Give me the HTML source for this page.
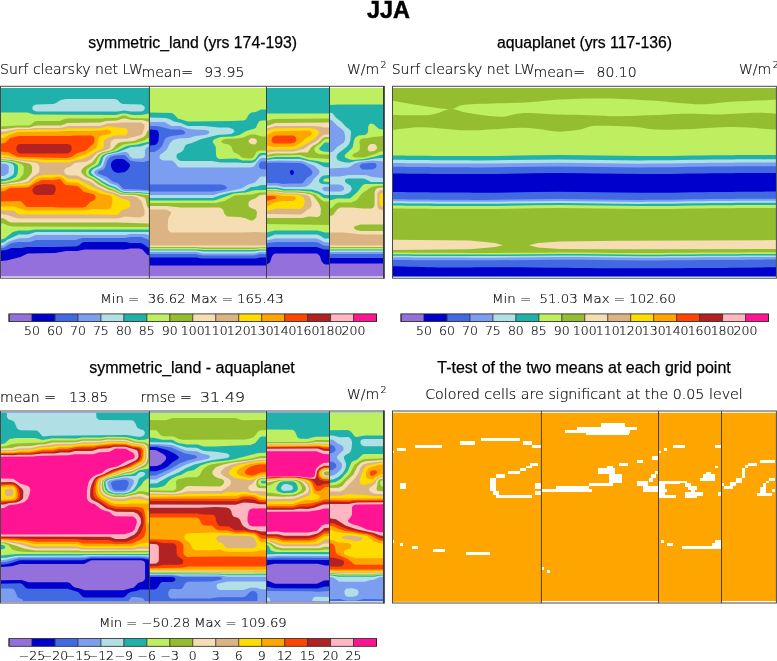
<!DOCTYPE html>
<html><head><meta charset="utf-8"><style>
html,body{margin:0;padding:0;background:#fff;width:777px;height:661px;overflow:hidden}
svg{display:block} text{white-space:pre}
</style></head><body>
<svg width="777" height="661" viewBox="0 0 777 661">
<text x="388.5" y="18.1" font-size="24.5" style="font-family:'Liberation Sans',sans-serif;font-weight:bold;stroke:#000;stroke-width:0.5px;" fill="#000" text-anchor="middle" textLength="43" lengthAdjust="spacingAndGlyphs">JJA</text>
<text x="88.3" y="48.4" font-size="16" style="font-family:'Liberation Sans',sans-serif;stroke:#000;stroke-width:0.25px;" fill="#000" textLength="208.7" lengthAdjust="spacingAndGlyphs">symmetric_land (yrs 174-193)</text>
<text x="497" y="48.2" font-size="16" style="font-family:'Liberation Sans',sans-serif;stroke:#000;stroke-width:0.25px;" fill="#000" textLength="175" lengthAdjust="spacingAndGlyphs">aquaplanet (yrs 117-136)</text>
<text x="0" y="73.9" font-size="14" style="font-family:'DejaVu Sans',sans-serif;font-weight:200;stroke:#000;stroke-width:0.2px;" fill="#111">Surf clearsky net LW</text>
<text x="141.6" y="76.8" font-size="14" style="font-family:'DejaVu Sans',sans-serif;font-weight:200;stroke:#000;stroke-width:0.2px;" fill="#111">mean=</text>
<text x="204.3" y="76.8" font-size="14" style="font-family:'DejaVu Sans',sans-serif;font-weight:200;stroke:#000;stroke-width:0.2px;" fill="#111">93.95</text>
<text x="347" y="73.9" font-size="14" style="font-family:'DejaVu Sans',sans-serif;font-weight:200;stroke:#000;stroke-width:0.2px;" fill="#111">W/m</text>
<text x="380.5" y="68" font-size="9.5" style="font-family:'DejaVu Sans',sans-serif;font-weight:200;stroke:#000;stroke-width:0.2px;" fill="#111">2</text>
<text x="391.7" y="73.9" font-size="14" style="font-family:'DejaVu Sans',sans-serif;font-weight:200;stroke:#000;stroke-width:0.2px;" fill="#111">Surf clearsky net LW</text>
<text x="533.5" y="76.8" font-size="14" style="font-family:'DejaVu Sans',sans-serif;font-weight:200;stroke:#000;stroke-width:0.2px;" fill="#111">mean=</text>
<text x="596.5" y="76.8" font-size="14" style="font-family:'DejaVu Sans',sans-serif;font-weight:200;stroke:#000;stroke-width:0.2px;" fill="#111">80.10</text>
<text x="739" y="73.9" font-size="14" style="font-family:'DejaVu Sans',sans-serif;font-weight:200;stroke:#000;stroke-width:0.2px;" fill="#111">W/m</text>
<text x="772.8" y="68" font-size="9.5" style="font-family:'DejaVu Sans',sans-serif;font-weight:200;stroke:#000;stroke-width:0.2px;" fill="#111">2</text>
<rect x="393" y="88.0" width="383" height="188.3" fill="#95bd30"/>
<path d="M393,276.3 L393.0,100.7 C398.1,101.6 413.9,104.5 423.5,105.9 C433.1,107.3 443.2,109.2 450.5,109.0 C457.8,108.8 454.8,105.7 467.0,104.6 C479.2,103.5 508.5,103.3 524.0,102.5 C539.5,101.7 546.5,100.2 560.0,99.5 C573.5,98.8 589.8,98.3 605.0,98.5 C620.2,98.7 638.5,99.8 651.0,100.5 C663.5,101.2 671.5,102.4 680.0,103.0 C688.5,103.6 693.3,104.5 702.0,104.3 C710.7,104.1 719.7,102.5 732.0,101.7 C744.3,100.9 768.7,100.0 776.0,99.7 L776,276.3 Z" fill="#bdef60"/>
<path d="M393,276.3 L393.0,114.9 C399.2,114.9 420.4,115.9 430.0,114.9 C439.6,113.9 444.3,109.3 450.5,109.0 C456.7,108.7 458.8,111.5 467.0,112.8 C475.2,114.1 490.5,116.7 500.0,116.7 C509.5,116.7 514.0,113.3 524.0,113.0 C534.0,112.7 549.0,114.2 560.0,114.6 C571.0,115.0 580.3,114.9 590.0,115.2 C599.7,115.5 607.0,116.2 618.0,116.2 C629.0,116.2 644.7,115.4 656.0,115.0 C667.3,114.6 675.3,113.8 686.0,113.7 C696.7,113.6 708.2,114.6 720.0,114.4 C731.8,114.2 747.7,112.8 757.0,112.7 C766.3,112.6 772.8,113.5 776.0,113.7 L776,276.3 Z" fill="#95bd30"/>
<path d="M393,276.3 L393.0,129.8 C398.1,129.4 411.2,127.1 423.5,127.2 C435.8,127.3 450.2,130.2 467.0,130.3 C483.8,130.4 509.0,127.6 524.0,127.8 C539.0,128.0 547.7,131.3 557.0,131.6 C566.3,131.9 573.7,130.6 580.0,129.6 C586.3,128.6 586.5,126.3 595.0,125.8 C603.5,125.3 620.8,126.0 631.0,126.6 C641.2,127.2 645.5,129.2 656.0,129.6 C666.5,130.0 681.3,129.3 694.0,128.9 C706.7,128.5 718.3,127.0 732.0,127.1 C745.7,127.2 768.7,129.2 776.0,129.6 L776,276.3 Z" fill="#bdef60"/>
<path d="M393,276.3 L393.0,155.4 C407.5,155.5 452.2,156.1 480.0,156.0 C507.8,155.9 533.3,155.1 560.0,155.1 C586.7,155.1 613.3,156.1 640.0,156.1 C666.7,156.1 697.3,155.4 720.0,155.2 C742.7,155.0 766.7,155.0 776.0,154.9 L776,276.3 Z" fill="#20b2aa"/>
<path d="M393,276.3 L393.0,159.8 C407.5,159.9 452.2,160.5 480.0,160.4 C507.8,160.3 533.3,159.5 560.0,159.5 C586.7,159.5 613.3,160.5 640.0,160.5 C666.7,160.5 697.3,159.8 720.0,159.6 C742.7,159.4 766.7,159.4 776.0,159.3 L776,276.3 Z" fill="#b0e0e6"/>
<path d="M393,276.3 L393.0,163.0 C407.5,163.1 452.2,163.7 480.0,163.6 C507.8,163.5 533.3,162.7 560.0,162.7 C586.7,162.7 613.3,163.7 640.0,163.7 C666.7,163.7 697.3,163.0 720.0,162.8 C742.7,162.6 766.7,162.6 776.0,162.5 L776,276.3 Z" fill="#7b9ef0"/>
<path d="M393,276.3 L393.0,166.8 C407.5,166.9 452.2,167.5 480.0,167.4 C507.8,167.3 533.3,166.5 560.0,166.5 C586.7,166.5 613.3,167.5 640.0,167.5 C666.7,167.5 697.3,166.8 720.0,166.6 C742.7,166.4 766.7,166.4 776.0,166.3 L776,276.3 Z" fill="#4169e1"/>
<path d="M393,276.3 L393.0,173.4 C407.5,173.5 452.2,174.1 480.0,174.0 C507.8,173.9 533.3,173.1 560.0,173.1 C586.7,173.1 613.3,174.1 640.0,174.1 C666.7,174.1 697.3,173.4 720.0,173.2 C742.7,173.0 766.7,173.0 776.0,172.9 L776,276.3 Z" fill="#0000cd"/>
<path d="M393,276.3 L393.0,192.1 C407.5,192.2 452.2,192.8 480.0,192.7 C507.8,192.6 533.3,191.8 560.0,191.8 C586.7,191.8 613.3,192.8 640.0,192.8 C666.7,192.8 697.3,192.1 720.0,191.9 C742.7,191.7 766.7,191.7 776.0,191.6 L776,276.3 Z" fill="#4169e1"/>
<path d="M393,276.3 L393.0,199.3 C407.5,199.4 452.2,200.0 480.0,199.9 C507.8,199.8 533.3,199.0 560.0,199.0 C586.7,199.0 613.3,200.0 640.0,200.0 C666.7,200.0 697.3,199.3 720.0,199.1 C742.7,198.9 766.7,198.9 776.0,198.8 L776,276.3 Z" fill="#7b9ef0"/>
<path d="M393,276.3 L393.0,201.2 C407.5,201.3 452.2,201.8 480.0,201.8 C507.8,201.7 533.3,200.9 560.0,200.9 C586.7,200.9 613.3,201.9 640.0,201.9 C666.7,201.9 697.3,201.2 720.0,201.0 C742.7,200.8 766.7,200.8 776.0,200.7 L776,276.3 Z" fill="#b0e0e6"/>
<path d="M393,276.3 L393.0,203.2 C407.5,203.3 452.2,203.8 480.0,203.8 C507.8,203.7 533.3,202.9 560.0,202.9 C586.7,202.9 613.3,203.9 640.0,203.9 C666.7,203.9 697.3,203.2 720.0,203.0 C742.7,202.8 766.7,202.8 776.0,202.7 L776,276.3 Z" fill="#20b2aa"/>
<path d="M393,276.3 L393.0,205.4 C407.5,205.5 452.2,206.1 480.0,206.0 C507.8,205.9 533.3,205.1 560.0,205.1 C586.7,205.1 613.3,206.1 640.0,206.1 C666.7,206.1 697.3,205.4 720.0,205.2 C742.7,205.0 766.7,205.0 776.0,204.9 L776,276.3 Z" fill="#bdef60"/>
<path d="M393,276.3 L393.0,208.4 C407.5,208.5 452.2,209.1 480.0,209.0 C507.8,208.9 533.3,208.1 560.0,208.1 C586.7,208.1 613.3,209.1 640.0,209.1 C666.7,209.1 697.3,208.4 720.0,208.2 C742.7,208.0 766.7,208.0 776.0,207.9 L776,276.3 Z" fill="#95bd30"/>
<path d="M393,239.8 L470,240.5 L495,243 L503,245.2 L495,247 L470,249.2 L393,250 Z" fill="#f5deb3"/>
<path d="M776,240.1 L620,240.8 L560,241.5 L538,243 L529,245.2 L538,247.5 L560,249 L620,249.3 L776,249 Z" fill="#f5deb3"/>
<path d="M393,276.3 L393.0,252.6 C407.5,252.7 452.2,253.0 480.0,253.0 C507.8,253.0 533.3,252.4 560.0,252.4 C586.7,252.4 613.3,253.1 640.0,253.1 C666.7,253.1 697.3,252.7 720.0,252.6 C742.7,252.5 766.7,252.3 776.0,252.3 L776,276.3 Z" fill="#bdef60"/>
<path d="M393,276.3 L393.0,254.2 C407.5,254.3 452.2,254.6 480.0,254.6 C507.8,254.6 533.3,254.0 560.0,254.0 C586.7,254.0 613.3,254.7 640.0,254.7 C666.7,254.7 697.3,254.3 720.0,254.2 C742.7,254.1 766.7,253.9 776.0,253.9 L776,276.3 Z" fill="#20b2aa"/>
<path d="M393,276.3 L393.0,255.7 C407.5,255.8 452.2,256.1 480.0,256.1 C507.8,256.1 533.3,255.5 560.0,255.5 C586.7,255.5 613.3,256.2 640.0,256.2 C666.7,256.2 697.3,255.8 720.0,255.7 C742.7,255.6 766.7,255.4 776.0,255.4 L776,276.3 Z" fill="#b0e0e6"/>
<path d="M393,276.3 L393.0,257.3 C407.5,257.4 452.2,257.7 480.0,257.7 C507.8,257.7 533.3,257.1 560.0,257.1 C586.7,257.1 613.3,257.8 640.0,257.8 C666.7,257.8 697.3,257.4 720.0,257.3 C742.7,257.2 766.7,257.1 776.0,257.0 L776,276.3 Z" fill="#7b9ef0"/>
<path d="M393,276.3 L393.0,259.9 C407.5,260.0 452.2,260.3 480.0,260.3 C507.8,260.3 533.3,259.7 560.0,259.7 C586.7,259.7 613.3,260.4 640.0,260.4 C666.7,260.4 697.3,260.0 720.0,259.9 C742.7,259.8 766.7,259.6 776.0,259.6 L776,276.3 Z" fill="#4169e1"/>
<path d="M393,276.3 L393.0,266.3 C397.5,266.4 410.5,266.8 420.0,267.0 C429.5,267.2 436.7,267.5 450.0,267.5 C463.3,267.5 481.7,267.1 500.0,267.2 C518.3,267.2 540.0,267.6 560.0,267.8 C580.0,268.0 596.7,268.3 620.0,268.3 C643.3,268.3 674.0,268.2 700.0,268.0 C726.0,267.8 763.3,267.4 776.0,267.3 L776,276.3 Z" fill="#0000cd"/>
<rect x="393" y="412.8" width="383" height="189" fill="#ffa500"/>
<g shape-rendering="crispEdges">
<rect x="396.8" y="448.0" width="9.1" height="2.9" fill="#fff"/>
<rect x="415.2" y="445.1" width="26.6" height="2.9" fill="#fff"/>
<rect x="460.0" y="441.2" width="15.0" height="3.9" fill="#fff"/>
<rect x="480.8" y="438.0" width="39.0" height="2.8" fill="#fff"/>
<rect x="522.9" y="440.8" width="9.1" height="4.3" fill="#fff"/>
<rect x="532.0" y="445.1" width="8.6" height="2.9" fill="#fff"/>
<rect x="392.0" y="451.0" width="2.0" height="2.0" fill="#fff"/>
<rect x="400.0" y="482.7" width="5.9" height="5.8" fill="#fff"/>
<rect x="532.0" y="462.9" width="5.8" height="3.1" fill="#fff"/>
<rect x="526.0" y="466.0" width="6.0" height="2.3" fill="#fff"/>
<rect x="519.8" y="468.3" width="6.2" height="2.9" fill="#fff"/>
<rect x="507.8" y="471.2" width="12.0" height="2.8" fill="#fff"/>
<rect x="496.2" y="474.0" width="8.8" height="3.9" fill="#fff"/>
<rect x="490.0" y="477.9" width="6.2" height="13.5" fill="#fff"/>
<rect x="492.8" y="491.4" width="6.2" height="3.9" fill="#fff"/>
<rect x="496.2" y="495.3" width="35.8" height="2.9" fill="#fff"/>
<rect x="534.9" y="482.7" width="5.7" height="5.8" fill="#fff"/>
<rect x="534.9" y="491.4" width="5.7" height="3.9" fill="#fff"/>
<rect x="601.4" y="422.9" width="23.2" height="3.9" fill="#fff"/>
<rect x="577.3" y="426.8" width="59.8" height="2.9" fill="#fff"/>
<rect x="564.7" y="429.7" width="65.7" height="2.8" fill="#fff"/>
<rect x="586.0" y="432.5" width="42.5" height="2.9" fill="#fff"/>
<rect x="530.0" y="462.5" width="7.7" height="3.5" fill="#fff"/>
<rect x="556.0" y="485.6" width="33.0" height="2.9" fill="#fff"/>
<rect x="541.4" y="488.5" width="50.4" height="3.3" fill="#fff"/>
<rect x="588.9" y="482.7" width="24.1" height="2.9" fill="#fff"/>
<rect x="609.0" y="474.0" width="12.7" height="8.7" fill="#fff"/>
<rect x="597.6" y="467.9" width="17.4" height="6.1" fill="#fff"/>
<rect x="607.0" y="466.0" width="6.0" height="1.9" fill="#fff"/>
<rect x="618.8" y="462.9" width="8.7" height="3.1" fill="#fff"/>
<rect x="637.0" y="460.2" width="6.0" height="2.7" fill="#fff"/>
<rect x="652.0" y="455.7" width="6.4" height="3.9" fill="#fff"/>
<rect x="654.5" y="470.6" width="3.9" height="3.4" fill="#fff"/>
<rect x="648.7" y="477.5" width="3.8" height="4.3" fill="#fff"/>
<rect x="651.0" y="474.0" width="4.5" height="4.0" fill="#fff"/>
<rect x="637.0" y="481.4" width="10.8" height="4.2" fill="#fff"/>
<rect x="643.0" y="485.6" width="15.4" height="6.2" fill="#fff"/>
<rect x="658.4" y="481.4" width="21.6" height="2.3" fill="#fff"/>
<rect x="658.4" y="483.7" width="6.6" height="13.5" fill="#fff"/>
<rect x="658.4" y="495.3" width="17.4" height="2.9" fill="#fff"/>
<rect x="672.9" y="445.0" width="12.1" height="3.0" fill="#fff"/>
<rect x="663.8" y="448.0" width="3.0" height="3.0" fill="#fff"/>
<rect x="658.4" y="451.0" width="2.1" height="1.5" fill="#fff"/>
<rect x="714.8" y="445.0" width="6.0" height="3.0" fill="#fff"/>
<rect x="714.8" y="466.2" width="3.0" height="1.9" fill="#fff"/>
<rect x="706.0" y="471.5" width="5.0" height="2.5" fill="#fff"/>
<rect x="703.0" y="474.0" width="11.8" height="3.5" fill="#fff"/>
<rect x="700.0" y="477.5" width="14.8" height="3.3" fill="#fff"/>
<rect x="660.0" y="480.8" width="27.0" height="2.0" fill="#fff"/>
<rect x="685.0" y="482.8" width="6.0" height="3.8" fill="#fff"/>
<rect x="688.0" y="485.8" width="9.0" height="3.8" fill="#fff"/>
<rect x="691.0" y="489.6" width="3.8" height="3.0" fill="#fff"/>
<rect x="685.0" y="492.3" width="18.0" height="3.4" fill="#fff"/>
<rect x="685.0" y="495.7" width="12.0" height="2.3" fill="#fff"/>
<rect x="660.0" y="495.7" width="16.0" height="2.3" fill="#fff"/>
<rect x="663.8" y="488.5" width="3.0" height="3.0" fill="#fff"/>
<rect x="718.3" y="492.3" width="2.5" height="3.4" fill="#fff"/>
<rect x="722.0" y="483.3" width="2.3" height="2.5" fill="#fff"/>
<rect x="724.3" y="485.8" width="8.3" height="3.1" fill="#fff"/>
<rect x="730.0" y="482.0" width="6.0" height="3.8" fill="#fff"/>
<rect x="736.0" y="478.0" width="5.7" height="5.0" fill="#fff"/>
<rect x="741.7" y="468.4" width="3.1" height="9.6" fill="#fff"/>
<rect x="744.8" y="465.4" width="3.0" height="3.0" fill="#fff"/>
<rect x="747.8" y="463.1" width="9.1" height="2.6" fill="#fff"/>
<rect x="760.0" y="459.8" width="15.0" height="3.3" fill="#fff"/>
<rect x="769.0" y="478.0" width="6.0" height="2.5" fill="#fff"/>
<rect x="766.0" y="480.5" width="3.0" height="2.3" fill="#fff"/>
<rect x="763.0" y="482.8" width="3.0" height="3.8" fill="#fff"/>
<rect x="760.0" y="486.6" width="6.0" height="6.0" fill="#fff"/>
<rect x="757.0" y="492.6" width="15.0" height="3.1" fill="#fff"/>
<rect x="772.0" y="488.9" width="3.0" height="3.0" fill="#fff"/>
<rect x="392.0" y="540.0" width="2.0" height="2.8" fill="#fff"/>
<rect x="399.7" y="542.8" width="3.3" height="2.9" fill="#fff"/>
<rect x="411.9" y="546.0" width="6.1" height="3.0" fill="#fff"/>
<rect x="433.0" y="549.0" width="12.0" height="2.9" fill="#fff"/>
<rect x="466.0" y="551.9" width="24.0" height="3.2" fill="#fff"/>
<rect x="540.6" y="567.0" width="1.4" height="3.0" fill="#fff"/>
<rect x="541.4" y="567.0" width="2.5" height="2.8" fill="#fff"/>
<rect x="547.0" y="569.8" width="3.0" height="2.9" fill="#fff"/>
<rect x="660.9" y="539.9" width="3.3" height="2.9" fill="#fff"/>
<rect x="667.0" y="542.8" width="5.9" height="2.9" fill="#fff"/>
<rect x="667.2" y="542.9" width="5.6" height="2.7" fill="#fff"/>
<rect x="682.3" y="545.9" width="32.7" height="2.7" fill="#fff"/>
<rect x="712.0" y="542.9" width="3.0" height="3.0" fill="#fff"/>
<rect x="715.0" y="540.0" width="6.0" height="8.6" fill="#fff"/>
<rect x="541.4" y="600.8" width="117.1" height="1.2" fill="#fff"/>
<rect x="721.5" y="600.8" width="54.5" height="1.2" fill="#fff"/>
</g>
<line x1="541.4" y1="411" x2="541.4" y2="603.4" stroke="#333" stroke-width="0.9"/>
<line x1="658.5" y1="411" x2="658.5" y2="603.4" stroke="#333" stroke-width="0.9"/>
<line x1="721.5" y1="411" x2="721.5" y2="603.4" stroke="#333" stroke-width="0.9"/>
<rect x="1.00" y="88.00" width="148.40" height="188.50" fill="#9370db"/>
<path fill="#0000cd" fill-rule="evenodd" d="M1.0,88.0 1.0,260.9 6.6,260.4 20.4,256.9 27.6,253.6 54.9,252.9 66.6,251.1 77.4,251.1 84.6,249.4 124.4,249.4 130.4,248.4 139.4,248.4 142.4,249.4 146.9,254.6 149.4,255.6 149.4,88.0Z"/>
<path fill="#4169e1" fill-rule="evenodd" d="M1.0,88.0 1.0,250.6 6.1,250.1 11.6,247.9 21.4,247.9 26.9,246.9 53.1,247.1 75.6,246.6 78.9,245.4 81.6,242.9 84.1,241.9 125.6,241.9 130.4,242.9 140.9,243.1 143.9,244.4 147.9,247.6 149.4,248.1 149.4,88.0ZM110.9,164.4 111.6,162.1 113.6,160.1 116.6,159.1 121.4,159.1 124.1,159.6 126.1,160.9 129.6,164.1 130.1,166.1 127.9,169.4 124.9,172.1 118.1,172.9 114.6,171.9 112.6,169.9 111.1,166.9Z"/>
<path fill="#7b9ef0" fill-rule="evenodd" d="M1.0,88.0 1.0,247.9 4.4,247.6 9.6,243.9 12.1,242.9 18.1,242.1 29.9,242.1 36.1,240.1 75.6,240.1 82.4,238.1 124.6,238.1 130.6,237.1 141.6,237.1 149.4,239.9 149.4,190.4 140.4,189.4 123.4,188.9 118.4,183.4 112.6,181.4 107.1,177.1 98.9,174.1 97.9,172.9 97.9,172.1 98.9,171.1 103.4,169.4 105.1,167.6 107.1,161.1 108.4,158.9 110.4,157.1 114.6,155.6 124.1,154.9 125.4,155.4 130.1,160.4 134.9,161.6 143.1,161.9 149.4,160.4 149.4,88.0Z"/>
<path fill="#b0e0e6" fill-rule="evenodd" d="M1.0,88.0 1.0,163.6 6.1,164.1 8.4,165.6 8.9,167.1 8.4,172.9 5.9,175.1 3.4,175.9 1.0,175.9 1.0,245.6 3.6,245.4 7.9,242.1 11.9,240.4 18.9,238.4 28.6,238.1 35.6,234.9 126.1,234.9 129.6,234.1 144.1,234.1 149.4,234.9 149.4,191.6 137.9,190.9 124.6,190.9 122.4,190.4 116.6,185.6 110.6,183.4 102.9,178.6 96.4,175.4 94.1,172.9 94.4,171.4 95.9,169.9 101.4,167.4 102.9,165.9 105.4,158.1 106.9,156.4 109.6,155.1 123.4,152.1 126.4,152.1 128.9,154.1 129.9,156.4 132.6,158.4 141.1,158.6 143.4,157.9 144.9,155.9 145.1,149.4 146.6,147.4 149.4,146.6 149.4,88.0Z"/>
<path fill="#20b2aa" fill-rule="evenodd" d="M1.0,88.0 1.0,162.1 5.1,162.1 10.4,163.1 12.4,163.9 14.1,165.9 14.1,172.6 12.9,175.1 8.9,177.6 5.1,178.9 1.0,179.1 1.0,242.9 3.9,242.4 7.9,239.6 18.6,234.6 27.9,234.4 35.6,232.1 149.4,232.1 149.4,192.9 136.4,191.9 123.9,191.9 121.1,191.1 116.1,187.6 109.4,184.9 102.9,181.4 93.1,175.1 91.1,172.9 91.4,171.1 93.4,169.1 100.4,165.4 101.4,163.9 103.4,157.1 106.6,154.6 118.4,151.9 130.9,147.1 140.1,146.4 147.6,144.1 149.4,144.1 149.4,88.0ZM32.4,107.1 33.6,105.4 36.1,104.4 53.6,104.1 56.1,103.1 60.6,100.1 66.4,98.9 115.1,98.9 117.6,100.1 120.6,103.1 122.9,104.1 141.6,104.6 144.4,106.4 144.9,108.6 143.1,110.9 140.9,111.6 130.6,111.6 124.6,110.6 117.4,111.6 36.6,111.4 33.6,110.4 32.4,108.9Z"/>
<path fill="#bdef60" fill-rule="evenodd" d="M1.0,112.6 1.0,161.1 7.9,161.4 14.6,162.9 17.6,165.1 18.1,167.9 17.6,174.1 15.6,177.1 10.9,179.6 4.9,181.1 1.0,181.4 1.0,239.4 4.6,238.6 12.9,231.9 18.6,230.4 29.1,230.4 34.6,229.6 149.4,229.6 149.4,194.1 133.1,192.6 124.6,192.9 120.9,192.1 114.6,188.6 107.6,185.9 102.4,183.1 95.4,178.1 90.4,175.4 88.6,173.4 88.6,171.1 90.6,168.6 96.4,165.6 98.4,163.9 101.1,156.9 103.1,154.9 106.6,153.4 116.6,150.9 124.4,146.9 128.6,145.4 137.6,144.4 147.4,141.9 149.1,141.9 149.4,113.6 141.4,115.1 132.6,115.1 125.9,113.4 122.1,113.4 115.6,115.1 33.9,114.6 27.6,112.6Z"/>
<path fill="#95bd30" fill-rule="evenodd" d="M149.4,118.4 132.6,117.9 129.6,117.4 125.1,115.6 122.9,115.6 116.6,117.9 104.6,118.1 102.1,118.6 68.6,118.6 64.6,119.1 59.6,120.9 36.6,120.9 34.4,121.6 31.4,124.4 28.4,125.6 18.6,125.6 1.0,126.6 1.0,160.1 7.6,160.4 15.6,161.9 22.1,164.4 23.9,166.9 23.4,173.9 19.6,178.4 16.6,180.1 4.6,182.6 1.0,182.6 1.0,223.4 3.6,223.6 7.9,225.6 12.6,226.4 149.4,226.9 149.4,195.6 134.4,193.6 122.9,193.6 120.1,192.9 115.1,190.4 107.6,187.6 100.9,184.1 93.9,178.9 88.6,176.4 86.9,174.9 85.9,173.1 85.9,171.1 87.1,168.9 95.4,163.4 98.6,156.9 101.6,154.1 104.4,152.9 113.9,150.4 120.6,145.9 123.4,144.6 129.6,143.4 134.4,143.1 143.9,140.4 149.4,137.1Z"/>
<path fill="#f5deb3" fill-rule="evenodd" d="M149.4,121.9 142.4,120.1 131.9,120.1 125.4,118.6 122.9,118.6 116.9,120.4 105.9,120.9 100.6,122.6 67.4,122.9 60.9,125.6 37.9,125.6 33.9,126.1 29.9,127.4 16.4,127.6 5.1,129.1 1.0,129.1 1.0,159.1 12.1,160.1 26.6,162.9 30.4,164.1 32.1,166.4 31.9,172.4 28.9,176.6 25.6,179.6 19.6,181.6 4.1,183.9 1.0,183.9 1.0,218.1 3.9,218.4 8.4,221.4 11.1,222.4 117.1,222.4 149.4,223.4 149.4,208.4 147.9,207.4 146.9,205.6 145.4,198.6 144.1,197.4 135.4,194.9 121.4,194.4 114.1,191.4 108.9,189.9 97.9,184.4 92.6,180.1 85.1,176.6 81.4,172.6 81.4,170.4 82.1,168.9 85.1,166.4 92.1,162.4 98.4,154.4 102.9,152.1 108.4,150.9 112.1,149.4 117.9,143.1 122.6,141.9 134.1,141.1 143.6,137.1 145.6,134.9 147.1,131.4 149.4,129.4Z"/>
<path fill="#dcb484" fill-rule="evenodd" d="M144.4,124.4 140.9,122.6 121.6,122.4 116.1,123.1 107.1,123.4 102.1,125.4 99.1,125.9 68.4,125.9 62.9,127.4 58.6,127.9 34.4,127.9 29.1,128.9 18.1,128.9 4.4,131.4 1.0,131.4 1.0,158.1 6.6,158.4 18.9,160.6 34.1,162.4 37.6,163.6 39.4,166.1 39.4,171.1 38.9,172.4 37.1,174.1 33.1,176.4 27.9,181.6 22.6,182.9 1.0,185.1 1.0,214.1 7.1,214.9 17.9,218.4 117.9,218.6 125.1,216.6 138.9,217.4 142.9,216.6 144.6,214.4 144.6,210.6 141.4,200.9 137.4,197.6 132.9,196.1 121.9,195.9 115.1,193.1 105.6,190.4 96.4,185.9 91.4,182.1 84.6,179.4 79.1,176.4 76.6,175.6 69.4,175.6 67.1,175.1 65.1,173.6 64.1,171.1 64.9,169.1 66.1,167.9 70.4,166.4 73.9,163.4 76.9,162.4 83.9,162.1 86.9,161.4 91.4,158.9 97.1,153.1 108.6,148.9 110.1,147.4 110.6,142.9 111.4,140.9 114.1,138.9 127.4,138.6 141.1,134.9 142.6,133.4 144.6,126.9Z"/>
<path fill="#ffdc00" fill-rule="evenodd" d="M1.0,186.4 1.0,210.6 12.4,210.4 14.4,211.1 17.9,213.9 20.1,214.6 87.9,214.4 116.4,215.1 118.1,214.4 122.1,209.9 128.4,207.9 130.4,205.4 129.9,202.1 127.6,200.1 121.1,198.6 113.9,194.4 105.9,192.4 96.6,188.9 78.1,179.4 67.4,178.6 63.1,175.6 59.9,174.4 42.6,174.9 35.1,177.6 30.1,182.4 27.6,183.6 10.4,184.9ZM127.6,130.9 126.9,129.1 124.9,127.9 117.1,127.6 111.1,126.4 106.9,126.4 101.9,127.9 94.4,128.4 67.4,128.4 62.4,129.4 36.9,129.4 30.6,130.1 19.4,130.1 15.9,130.6 5.1,133.9 1.0,134.4 1.0,156.9 6.1,157.1 19.1,159.6 36.4,160.9 42.9,162.4 69.1,162.6 74.6,160.4 82.4,158.9 89.4,156.1 94.9,152.1 101.6,149.1 103.6,147.6 103.9,140.9 105.4,139.1 114.6,135.4 124.1,135.4 125.9,134.9 127.4,133.4Z"/>
<path fill="#ffa500" fill-rule="evenodd" d="M112.4,197.6 110.4,195.6 99.6,193.4 96.1,191.6 89.4,189.4 78.4,182.9 67.1,181.9 62.4,177.6 58.9,176.6 52.1,177.4 42.6,177.4 39.4,178.1 35.4,179.9 30.1,184.4 26.9,185.4 10.1,186.1 4.6,187.6 1.0,187.9 1.0,206.6 13.9,206.6 26.1,210.6 85.9,210.6 91.6,208.9 107.6,209.4 109.9,208.6 111.4,206.6 112.4,201.1ZM111.1,131.6 109.1,129.9 106.9,129.6 100.9,130.6 92.1,131.1 64.6,131.1 59.1,131.6 17.6,132.1 8.9,135.1 3.9,137.9 1.0,138.1 1.0,154.9 5.1,155.1 16.6,158.1 20.6,158.6 35.4,159.1 44.4,160.1 69.6,160.1 86.6,153.9 95.6,148.4 97.4,145.9 98.1,139.6 99.1,137.4 101.9,135.6 109.6,134.1 110.9,133.1Z"/>
<path fill="#ff4500" fill-rule="evenodd" d="M95.6,196.9 95.1,195.6 93.1,194.1 86.4,192.6 83.4,191.4 79.6,187.6 77.4,186.1 65.9,185.1 63.6,183.4 60.9,179.6 59.6,179.1 53.4,179.9 41.6,180.1 35.9,182.4 29.1,186.9 26.6,187.4 10.4,187.9 7.6,188.9 4.6,190.9 1.0,191.4 1.0,201.4 19.6,201.1 21.9,201.9 25.9,206.4 27.6,207.1 52.6,206.9 58.6,207.4 82.9,207.4 86.1,206.4 90.1,201.9 94.4,200.1 95.4,198.6ZM94.4,138.4 93.6,136.6 91.9,135.6 73.4,135.6 70.9,136.1 19.1,136.1 10.1,138.1 4.9,142.9 1.0,143.6 1.0,151.6 9.1,152.6 16.6,156.4 21.1,157.1 67.9,157.9 71.9,156.6 77.4,152.9 84.6,151.1 86.6,150.1 93.6,143.6 94.4,141.9Z"/>
<path fill="#b22222" fill-rule="evenodd" d="M32.4,189.4 32.6,191.4 33.6,193.4 36.4,195.1 51.6,195.1 53.4,194.4 54.9,192.6 55.6,190.6 55.6,187.1 55.1,185.9 53.1,184.4 43.4,184.1 36.1,185.6 34.4,186.6ZM16.4,147.1 16.4,149.6 17.1,151.4 18.6,152.9 20.9,153.6 67.9,153.4 70.6,151.6 71.6,149.4 71.6,147.1 70.6,145.1 67.6,143.9 20.4,143.9 17.9,144.6Z"/>
<rect x="149.40" y="88.00" width="117.10" height="188.50" fill="#9370db"/>
<path fill="#0000cd" fill-rule="evenodd" d="M149.4,88.0 149.4,265.4 266.5,265.4 266.5,88.0Z"/>
<path fill="#4169e1" fill-rule="evenodd" d="M149.4,88.0 149.4,129.6 156.3,129.9 158.0,131.1 159.0,133.9 158.5,140.4 157.5,143.1 155.3,145.1 149.4,145.4 149.4,257.6 197.0,257.6 201.3,258.4 255.8,258.4 260.3,257.6 266.5,257.6 266.5,88.0Z"/>
<path fill="#7b9ef0" fill-rule="evenodd" d="M149.4,88.0 149.4,126.1 157.0,126.1 163.8,127.4 171.0,129.6 181.0,129.6 183.5,130.6 185.5,132.6 184.3,134.1 183.0,134.6 171.3,135.9 166.5,137.6 164.8,139.4 161.8,146.4 158.8,149.6 154.5,151.9 149.4,151.9 149.4,184.4 221.0,184.4 224.8,185.4 226.8,187.1 226.8,187.9 225.8,188.9 223.8,189.9 213.8,191.6 149.4,191.6 149.4,253.9 195.0,253.9 202.8,255.6 254.0,255.6 259.8,254.1 266.5,253.9 266.5,169.4 261.0,169.1 259.3,167.6 258.8,165.9 259.3,163.4 261.0,161.6 266.5,161.4 266.5,88.0Z"/>
<path fill="#b0e0e6" fill-rule="evenodd" d="M266.5,176.6 261.5,176.6 260.0,177.1 255.0,182.6 248.3,184.4 241.5,188.6 219.8,193.1 213.8,194.9 149.4,195.1 149.4,251.9 197.0,251.9 202.5,253.4 250.0,253.6 254.3,253.4 260.0,251.9 266.5,251.9ZM149.4,88.0 149.4,122.1 164.3,122.1 171.5,126.1 180.5,126.1 187.0,128.6 194.0,129.6 206.0,129.9 208.5,130.9 209.5,132.1 208.0,133.9 205.0,134.9 195.5,135.9 188.5,138.1 178.3,138.4 173.3,140.1 170.0,142.9 166.5,150.1 159.8,155.1 159.5,157.9 161.0,159.6 163.5,160.4 172.0,160.6 174.8,162.6 178.0,166.9 180.3,167.6 250.5,167.4 254.0,166.4 257.8,161.1 260.3,158.6 262.5,157.9 266.5,157.9 266.5,88.0Z"/>
<path fill="#20b2aa" fill-rule="evenodd" d="M266.5,185.1 261.3,185.1 256.5,186.6 251.3,187.1 244.0,190.9 230.8,192.6 220.8,195.1 213.0,197.9 149.4,198.1 149.4,250.4 196.5,250.4 202.8,251.6 254.0,251.6 260.5,250.4 266.5,250.4ZM149.4,88.0 149.4,117.4 165.5,117.9 169.3,119.1 174.0,121.6 181.0,122.9 187.5,125.9 204.3,126.1 218.3,127.6 228.5,127.6 232.8,128.9 234.3,130.6 234.3,131.9 231.3,133.9 217.5,134.9 201.3,138.9 191.8,143.1 186.5,144.4 185.3,145.6 183.0,150.6 181.3,152.1 177.8,153.4 176.5,155.1 176.5,157.4 177.5,159.1 179.3,160.6 181.0,161.1 212.0,161.1 220.5,162.6 238.0,162.4 243.3,163.1 251.0,163.1 253.3,162.6 255.3,161.4 260.0,155.9 262.3,155.1 266.5,155.1 266.5,88.0Z"/>
<path fill="#bdef60" fill-rule="evenodd" d="M266.5,189.9 253.0,190.4 245.5,192.6 233.8,193.6 216.0,199.9 213.3,200.4 149.4,200.6 149.4,249.4 198.3,249.4 202.0,250.1 254.8,250.1 258.8,249.4 266.5,249.4ZM266.5,120.6 261.5,120.6 259.8,121.1 258.0,122.9 256.0,127.4 254.8,128.6 246.3,130.9 239.3,135.1 233.0,136.4 220.3,137.1 214.0,139.4 212.8,140.9 212.8,142.1 215.8,147.1 216.0,154.4 216.8,157.4 219.0,158.9 220.5,159.1 236.5,158.6 242.5,160.6 252.3,160.6 255.3,158.9 259.3,153.6 262.0,152.9 266.5,152.9ZM149.4,88.0 149.4,112.4 171.8,113.1 174.3,114.4 177.8,118.4 188.0,121.4 231.8,121.1 243.5,120.4 246.0,119.4 248.8,114.6 251.3,112.6 255.8,111.9 261.0,109.6 266.5,109.6 266.5,88.0Z"/>
<path fill="#95bd30" fill-rule="evenodd" d="M266.5,192.4 259.5,192.4 252.3,194.4 234.5,195.6 224.5,201.1 216.0,202.9 149.4,203.1 149.4,248.1 197.0,248.1 202.3,248.9 254.8,248.9 260.0,248.1 266.5,248.1ZM266.5,150.4 266.5,136.6 261.5,136.6 255.3,134.6 250.5,134.6 243.3,137.6 237.0,138.6 225.5,139.1 222.8,139.9 221.3,141.1 221.3,141.9 223.5,143.6 228.8,144.6 230.0,145.4 231.5,147.1 232.8,150.6 234.3,152.6 238.0,154.1 241.3,157.1 243.5,158.1 250.0,158.4 252.5,157.9 254.0,156.6 255.5,153.4 257.0,151.6 260.8,150.4Z"/>
<path fill="#f5deb3" fill-rule="evenodd" d="M266.5,194.6 259.8,195.1 255.3,198.6 251.0,199.9 249.0,201.4 248.3,203.4 248.8,206.4 251.0,208.1 255.3,209.4 257.0,211.9 256.5,216.6 255.8,218.1 253.0,220.4 250.5,220.4 246.3,218.4 240.0,216.9 227.3,216.4 224.8,214.4 222.8,209.6 221.5,208.4 219.5,207.6 180.5,207.6 166.5,206.1 149.4,206.1 149.4,246.9 195.0,246.9 204.0,247.6 252.5,247.6 266.5,246.9ZM248.8,139.9 248.5,141.6 249.0,142.6 251.0,144.1 254.5,144.4 255.8,143.9 257.0,142.1 256.5,139.6 254.8,138.4 251.3,138.1Z"/>
<path fill="#dcb484" fill-rule="evenodd" d="M149.4,209.6 149.4,245.4 266.5,245.4 266.5,232.6 255.5,232.1 240.8,232.6 171.0,232.4 168.5,230.4 167.8,226.9 168.0,219.4 169.0,216.6 171.0,213.9 171.0,212.1 168.5,210.4 165.5,209.6Z"/>
<rect x="266.50" y="88.00" width="63.00" height="188.50" fill="#9370db"/>
<path fill="#0000cd" fill-rule="evenodd" d="M266.5,88.0 266.5,264.4 268.6,263.6 269.9,262.4 272.1,255.9 273.9,254.1 276.1,253.4 317.1,253.6 319.9,255.9 321.4,260.9 323.4,263.6 325.4,264.4 329.5,264.4 329.5,88.0Z"/>
<path fill="#4169e1" fill-rule="evenodd" d="M266.5,88.0 266.5,247.4 271.6,246.9 316.4,246.9 324.1,249.4 329.5,249.4 329.5,88.0ZM291.4,169.9 292.6,169.9 294.1,172.1 293.6,174.1 292.4,175.1 291.1,174.9 289.9,172.6 290.1,171.1Z"/>
<path fill="#7b9ef0" fill-rule="evenodd" d="M266.5,88.0 266.5,163.1 273.6,162.6 300.6,162.9 303.6,164.1 309.6,168.1 312.4,171.4 312.4,173.1 311.4,174.9 307.4,177.6 302.6,182.9 301.1,183.6 290.9,183.4 282.4,183.9 278.4,183.1 266.5,183.1 266.5,242.9 276.1,242.1 314.6,242.1 317.9,242.6 323.4,245.6 329.5,246.1 329.5,88.0Z"/>
<path fill="#b0e0e6" fill-rule="evenodd" d="M266.5,88.0 266.5,161.1 278.1,160.4 301.9,160.9 313.9,165.6 318.4,169.4 319.6,171.6 318.9,173.9 314.1,178.6 311.4,182.4 308.9,184.9 305.9,186.4 302.1,187.1 283.4,187.1 276.6,185.6 266.5,185.6 266.5,240.4 275.1,238.4 316.6,238.4 320.4,239.9 323.9,242.1 329.5,242.6 329.5,191.6 324.1,191.1 321.9,188.6 323.9,186.9 329.5,186.6 329.5,88.0Z"/>
<path fill="#20b2aa" fill-rule="evenodd" d="M266.5,187.6 266.5,237.9 274.9,234.6 317.4,234.6 320.6,235.9 324.4,238.4 329.5,238.6 329.5,194.9 324.9,194.9 318.6,191.4 311.9,189.6 283.9,189.1 277.1,187.6ZM329.5,174.9 323.6,175.4 320.9,177.1 318.9,180.1 319.4,182.6 322.1,184.1 329.5,184.4ZM266.5,88.0 266.5,159.9 273.9,158.9 299.6,158.9 316.6,163.1 324.4,167.1 329.5,167.4 329.5,88.0Z"/>
<path fill="#bdef60" fill-rule="evenodd" d="M266.5,189.1 266.5,232.6 274.9,230.6 317.4,230.6 325.1,232.6 329.5,232.6 329.5,198.4 323.9,197.9 318.6,194.1 310.9,191.4 297.4,190.4 283.1,190.4 276.9,189.1ZM323.4,179.6 323.4,180.9 324.1,181.6 329.5,182.1 329.5,178.4 325.4,178.4ZM266.5,113.4 266.5,158.4 275.6,157.1 299.1,157.1 309.6,159.9 317.6,160.9 323.6,162.4 329.5,162.6 329.5,151.9 323.1,151.6 320.6,150.6 319.4,149.4 319.4,147.9 323.6,143.6 325.4,142.6 329.5,142.4 329.5,113.6Z"/>
<path fill="#95bd30" fill-rule="evenodd" d="M266.5,190.4 266.5,224.1 329.5,225.1 329.5,201.6 323.9,201.4 320.9,199.6 315.1,194.6 308.4,192.4 295.6,191.4 282.9,191.4 277.6,190.4ZM329.5,118.6 273.4,119.1 266.5,120.9 266.5,157.1 275.4,155.4 300.4,155.1 307.4,157.4 329.5,159.1 329.5,154.6 323.4,154.6 318.9,153.9 315.6,152.4 314.1,149.6 314.6,147.9 316.4,146.1 320.4,143.6 323.9,139.9 325.9,139.1 329.5,139.1Z"/>
<path fill="#f5deb3" fill-rule="evenodd" d="M266.5,191.4 266.5,218.1 302.1,218.1 308.9,216.4 317.6,216.9 319.6,215.9 320.6,214.4 320.9,209.1 319.4,203.9 314.6,197.6 312.6,195.6 310.4,194.4 306.4,193.4 295.9,192.4 283.6,192.4 277.6,191.4ZM329.5,122.6 275.4,122.9 266.9,125.9 266.5,155.1 274.1,153.6 293.6,153.6 300.1,152.6 307.6,152.6 311.9,146.4 318.1,142.9 322.9,137.9 325.1,136.9 329.5,136.9Z"/>
<path fill="#dcb484" fill-rule="evenodd" d="M266.5,192.1 266.5,214.1 300.4,214.4 302.9,213.4 306.9,209.9 309.4,208.6 311.1,206.9 311.6,205.6 311.6,202.4 310.4,197.9 309.4,196.4 306.9,195.1 295.6,193.4 285.4,193.4 277.9,192.4ZM266.5,152.9 275.1,151.6 293.9,151.6 303.6,148.9 311.1,143.9 316.1,141.6 322.6,135.4 325.1,134.4 329.5,134.4 329.5,127.6 324.4,127.6 320.1,126.6 312.6,125.9 275.9,125.9 266.5,128.6Z"/>
<path fill="#ffdc00" fill-rule="evenodd" d="M266.5,193.1 266.5,210.4 268.9,210.4 276.6,208.4 299.9,209.1 302.1,208.1 304.4,204.9 304.6,200.6 304.1,197.9 303.1,196.9 300.1,195.6 294.1,194.4 283.4,194.4 277.9,193.4ZM319.1,131.9 318.4,130.9 316.1,129.6 310.4,128.1 275.6,128.4 272.1,129.1 266.5,131.1 266.5,150.1 271.6,149.6 291.4,149.6 295.6,148.9 303.4,145.4 314.1,139.1 318.4,134.6 319.1,133.4Z"/>
<path fill="#ffa500" fill-rule="evenodd" d="M266.5,206.6 269.4,205.6 274.4,202.6 283.4,201.1 293.4,200.9 295.6,199.4 295.9,197.6 294.4,196.4 291.6,195.9 283.1,195.9 276.1,194.4 266.5,194.1ZM312.1,133.1 310.9,131.4 308.6,130.6 273.9,131.4 266.5,135.4 266.5,145.6 273.6,146.9 293.6,146.6 300.6,143.1 305.6,138.6 310.1,136.1 311.6,134.6Z"/>
<path fill="#ff4500" fill-rule="evenodd" d="M266.5,201.1 275.6,198.4 276.6,197.1 273.6,196.1 266.5,195.9ZM271.4,140.9 272.4,142.4 274.6,143.4 290.9,143.6 294.9,142.4 296.1,140.9 296.4,139.1 295.9,137.6 294.4,136.1 292.9,135.6 275.6,135.6 272.4,137.6 271.4,139.6Z"/>
<rect x="329.50" y="88.00" width="53.70" height="188.50" fill="#9370db"/>
<path fill="#0000cd" fill-rule="evenodd" d="M329.5,88.0 329.5,263.4 383.2,263.4 383.2,88.0Z"/>
<path fill="#4169e1" fill-rule="evenodd" d="M329.5,88.0 329.5,257.9 383.2,257.9 383.2,88.0Z"/>
<path fill="#7b9ef0" fill-rule="evenodd" d="M329.5,88.0 329.5,254.1 383.2,254.1 383.2,88.0ZM376.9,165.4 375.6,168.1 372.4,169.4 362.6,169.4 361.1,168.6 359.6,166.4 360.1,164.9 362.4,163.6 370.6,162.9 374.6,163.1 375.6,163.6Z"/>
<path fill="#b0e0e6" fill-rule="evenodd" d="M329.5,176.6 329.5,184.4 339.4,184.4 342.4,185.6 344.1,187.6 344.1,189.4 341.1,191.4 329.5,191.4 329.5,251.9 383.2,251.9 383.2,177.9 372.6,177.1 365.6,174.9 348.6,174.9 339.9,176.6ZM329.5,88.0 329.5,119.6 332.1,120.4 336.9,125.6 341.6,128.9 344.1,131.4 345.1,135.9 345.1,139.6 343.9,142.6 337.1,147.1 332.9,151.6 329.5,152.6 329.5,168.4 348.1,167.4 351.4,166.1 354.6,163.6 360.6,161.9 372.4,160.6 383.2,161.4 383.2,88.0Z"/>
<path fill="#20b2aa" fill-rule="evenodd" d="M346.1,178.9 344.9,180.1 345.1,181.9 346.9,183.6 350.4,185.6 351.9,188.4 350.9,191.1 348.9,193.1 343.1,194.9 329.5,194.9 329.5,250.4 383.2,250.4 383.2,181.9 371.1,181.9 365.1,178.9 362.6,178.4 347.6,178.4ZM329.5,88.0 329.5,112.4 332.9,113.4 335.9,117.6 341.6,122.1 346.1,127.1 349.1,128.9 351.1,131.6 350.4,140.1 349.1,143.9 346.4,146.9 337.6,154.1 336.4,156.6 336.9,158.9 338.4,160.4 341.4,161.6 345.6,162.4 350.1,162.4 355.6,161.1 367.1,160.1 374.6,158.6 383.2,158.1 383.2,88.0Z"/>
<path fill="#bdef60" fill-rule="evenodd" d="M383.2,183.9 364.9,184.1 362.4,185.4 357.4,191.9 350.6,198.1 349.1,198.6 336.9,198.6 329.5,200.4 329.5,249.4 383.2,249.4ZM383.2,129.4 381.1,129.4 378.4,128.4 373.4,123.9 370.9,123.6 369.1,124.4 368.1,127.1 368.1,131.6 367.1,133.6 364.9,134.9 358.4,135.6 355.4,137.4 354.1,139.9 352.6,147.6 345.4,154.4 344.6,156.1 345.1,157.4 349.6,159.6 352.9,159.9 364.4,159.1 375.1,156.6 380.1,154.9 383.2,154.6ZM329.5,88.0 329.5,105.1 338.4,104.4 383.2,104.4 383.2,88.0Z"/>
<path fill="#95bd30" fill-rule="evenodd" d="M383.2,185.6 376.1,185.9 371.4,186.9 362.6,192.9 360.6,194.9 357.9,199.1 356.1,200.6 350.9,202.4 338.1,202.6 335.4,204.1 331.9,207.9 329.5,208.6 329.5,248.1 383.2,248.1ZM383.2,135.9 372.9,136.9 368.1,138.1 362.9,138.4 360.9,139.1 359.4,140.9 359.9,149.1 358.4,151.4 353.1,154.1 352.4,155.1 352.4,156.4 355.4,157.6 363.9,157.4 375.4,153.9 380.1,151.6 383.2,151.4Z"/>
<path fill="#f5deb3" fill-rule="evenodd" d="M383.2,187.6 378.6,187.9 376.6,188.6 375.4,189.9 374.6,192.6 374.6,204.9 373.9,207.1 372.9,208.1 371.4,208.6 362.6,208.6 352.6,207.6 340.6,207.6 337.6,208.9 333.1,214.9 331.9,215.6 329.5,215.9 329.5,246.9 383.2,246.9 383.2,230.9 361.1,230.9 356.1,229.9 353.9,228.1 354.1,227.1 355.6,225.9 360.1,224.6 383.2,224.4ZM368.1,145.9 367.6,149.4 369.4,151.4 374.4,150.9 376.6,149.1 377.1,147.9 376.6,145.9 375.4,144.6 373.9,144.1 370.6,144.1Z"/>
<path fill="#dcb484" fill-rule="evenodd" d="M329.5,232.6 329.5,245.4 383.2,245.4 383.2,234.4 363.1,234.4 342.9,232.6ZM380.6,190.1 378.1,191.9 377.4,193.6 377.4,206.1 378.1,208.1 379.4,209.4 383.2,209.9 383.2,190.1Z"/>
<path fill="#ffdc00" fill-rule="evenodd" d="M380.4,193.6 379.6,194.6 379.1,199.9 379.9,205.1 381.4,206.4 383.2,206.6 383.2,192.9Z"/>
<rect x="1.00" y="412.80" width="148.40" height="188.50" fill="#9370db"/>
<path fill="#0000cd" fill-rule="evenodd" d="M1.0,412.8 1.0,566.9 11.6,566.2 20.1,563.9 84.1,563.9 91.4,560.2 141.1,560.2 143.6,560.9 145.1,562.7 145.1,578.2 144.6,579.7 142.9,581.4 138.1,582.9 133.9,587.4 123.4,590.2 84.6,590.2 78.9,588.2 74.9,587.4 72.9,586.2 69.9,582.9 67.6,582.2 28.6,582.2 21.6,579.9 1.0,580.2 1.0,601.3 149.4,601.3 149.4,412.8Z"/>
<path fill="#4169e1" fill-rule="evenodd" d="M1.0,583.7 1.0,601.3 149.4,601.3 149.4,589.4 140.4,589.4 135.4,591.2 131.4,591.7 128.4,593.2 124.9,596.7 122.9,597.4 84.6,597.4 82.6,596.7 78.1,591.9 67.4,588.7 28.1,588.7 25.9,587.9 22.1,583.9 20.1,583.2ZM1.0,412.8 1.0,564.4 4.4,564.4 9.6,563.4 19.9,560.2 82.9,560.2 90.4,558.4 142.4,558.4 149.4,559.7 149.4,412.8Z"/>
<path fill="#7b9ef0" fill-rule="evenodd" d="M128.6,600.7 128.6,601.3 144.9,601.3 144.1,599.4 142.4,597.9 135.9,596.9 132.4,596.9 131.1,597.4ZM1.0,588.4 1.0,601.3 23.6,601.3 22.1,599.2 18.6,597.9 17.4,596.7 15.1,590.9 13.6,589.2 11.4,588.4ZM1.0,412.8 1.0,562.2 5.9,561.9 18.9,558.4 84.6,558.2 89.9,557.2 142.9,557.2 149.4,557.9 149.4,412.8ZM128.6,481.7 128.6,484.2 126.9,488.7 125.4,489.9 123.6,490.4 116.1,490.4 114.4,489.9 112.6,488.4 111.1,484.2 111.1,482.7 112.4,481.4 116.1,480.4 124.4,479.7 126.9,480.2Z"/>
<path fill="#b0e0e6" fill-rule="evenodd" d="M1.0,412.8 1.0,560.2 6.1,559.7 14.1,557.7 19.6,556.9 85.1,556.7 90.9,555.9 139.1,555.9 149.4,556.4 149.4,412.8ZM133.9,480.7 133.6,483.7 130.6,488.7 128.4,490.7 123.9,492.2 115.9,492.2 112.6,491.4 109.4,488.9 107.4,484.4 107.4,482.2 109.1,480.4 122.1,477.9 127.4,477.7 132.4,478.9Z"/>
<path fill="#20b2aa" fill-rule="evenodd" d="M1.0,412.8 1.0,557.9 5.9,557.7 17.1,555.7 80.6,555.4 88.1,554.9 149.4,555.2 149.4,412.8 96.1,412.8 96.4,417.2 97.9,419.2 99.6,419.9 132.1,420.2 133.4,420.7 135.1,422.7 136.9,426.9 138.4,428.4 143.4,430.2 144.6,431.7 144.9,433.7 143.4,435.7 140.9,436.7 137.6,436.7 126.6,434.9 50.6,435.7 43.4,436.4 41.9,435.7 39.6,432.7 36.9,430.4 20.6,430.2 18.4,429.4 16.9,427.9 14.4,421.9 12.4,420.4 8.9,419.4 7.4,417.9 6.9,416.7 6.9,412.8ZM145.1,473.2 144.9,474.7 143.6,475.9 139.9,477.9 138.6,479.2 137.4,483.4 134.4,488.4 132.1,490.4 128.1,492.4 123.4,493.4 113.9,493.2 108.6,490.9 106.4,487.9 105.4,482.7 105.9,481.2 108.4,479.4 124.9,476.2 134.9,475.9 136.1,475.4 138.6,472.7 140.4,471.9 143.6,471.9Z"/>
<path fill="#bdef60" fill-rule="evenodd" d="M149.4,438.2 144.6,439.7 138.9,439.9 126.1,436.9 107.4,436.7 101.9,437.4 82.1,437.4 76.6,438.4 52.6,438.2 42.6,439.9 35.1,437.9 16.6,437.9 9.6,438.9 5.1,442.9 3.6,443.7 1.0,443.9 1.0,544.7 3.6,544.9 5.1,546.4 4.9,547.9 3.9,548.9 1.0,549.4 1.0,555.4 16.9,553.9 149.4,553.9 149.4,477.7 145.4,479.7 143.4,481.7 141.1,485.2 135.6,490.4 132.4,492.2 124.9,494.4 114.9,494.4 108.6,492.7 105.4,489.7 104.1,484.7 104.1,481.9 104.6,480.9 107.1,478.9 124.6,474.9 131.1,474.4 134.4,473.2 139.1,470.2 149.4,468.4Z"/>
<path fill="#95bd30" fill-rule="evenodd" d="M149.4,444.4 145.4,442.4 135.9,441.4 126.1,438.4 106.4,438.2 99.9,439.2 82.1,439.2 76.1,440.4 51.4,440.4 43.6,442.4 16.4,443.4 11.1,444.2 3.9,446.4 1.0,446.4 1.0,543.2 3.9,543.2 8.4,544.9 11.9,548.9 13.9,550.2 18.1,551.2 26.6,551.9 79.4,552.4 149.4,552.2 149.4,492.4 142.6,491.2 139.4,491.2 134.1,493.2 125.6,495.4 113.6,495.4 108.9,494.2 106.1,492.7 103.9,489.9 102.9,484.7 102.9,482.2 103.6,480.4 106.4,478.4 117.6,475.9 124.6,473.7 131.4,472.7 138.1,469.2 143.1,467.7 145.9,466.2 149.4,462.4Z"/>
<path fill="#f5deb3" fill-rule="evenodd" d="M147.1,446.2 145.4,444.4 143.6,443.7 133.9,442.4 125.6,439.7 107.1,439.4 100.1,440.7 82.9,440.7 75.4,442.2 52.4,442.4 44.6,444.2 39.6,444.4 30.6,445.9 18.6,446.2 11.4,447.9 1.0,448.4 1.0,542.2 5.9,542.4 24.9,548.7 35.4,550.4 78.4,550.4 81.4,550.9 149.4,550.7 149.4,495.7 147.9,495.7 142.6,493.9 139.4,493.7 124.1,496.9 115.1,496.9 112.1,496.4 105.9,494.2 103.4,491.9 102.1,489.2 101.6,484.2 102.4,480.4 105.9,477.9 117.1,475.2 122.9,472.9 132.4,470.9 144.4,464.9 146.4,462.4 147.9,458.4 148.1,449.4Z"/>
<path fill="#dcb484" fill-rule="evenodd" d="M145.6,446.7 142.9,444.7 131.9,443.2 125.4,440.9 108.6,440.7 97.9,442.2 83.6,442.2 73.9,443.7 57.6,443.9 40.6,445.9 29.9,448.2 18.4,448.4 12.1,449.9 1.0,449.9 1.0,541.2 5.6,541.4 19.6,544.2 31.4,547.7 35.9,548.4 77.4,548.4 82.1,549.4 132.1,549.7 138.6,548.7 149.4,548.9 149.4,498.4 146.9,498.2 140.9,496.2 131.6,496.7 124.4,498.7 113.6,498.4 107.1,496.4 103.4,494.2 101.1,491.2 100.4,486.2 100.9,480.9 103.4,478.4 106.6,476.9 116.6,474.4 122.6,471.9 132.4,469.7 143.1,463.9 144.9,461.9 146.4,457.9 146.6,450.4Z"/>
<path fill="#ffdc00" fill-rule="evenodd" d="M144.6,447.4 141.6,445.4 131.6,444.2 125.6,442.2 112.4,441.9 106.9,442.2 99.1,443.4 83.4,443.7 69.4,445.4 58.6,445.4 53.6,446.4 40.6,447.4 29.6,449.9 19.9,449.9 12.9,451.2 1.0,451.2 1.0,540.4 6.6,540.7 22.4,542.9 34.9,546.2 75.4,546.2 83.1,547.9 133.6,547.9 139.6,546.4 149.4,546.7 149.4,500.9 138.4,499.2 132.6,499.2 124.1,501.2 114.1,500.9 107.9,498.7 102.6,495.7 100.1,492.9 98.9,488.7 99.1,482.2 99.9,480.4 101.9,478.4 106.1,476.4 112.4,474.9 123.4,470.7 131.9,468.7 142.1,462.9 144.4,460.2 145.1,457.7 145.4,449.9ZM6.6,488.9 11.1,488.2 13.1,489.4 13.4,492.9 12.1,495.9 11.1,496.4 7.6,496.4 5.4,494.9 4.9,493.2 5.1,490.7Z"/>
<path fill="#ffa500" fill-rule="evenodd" d="M143.6,448.2 140.6,446.2 133.1,445.4 124.9,443.2 112.4,443.2 93.4,445.2 82.6,445.2 68.9,446.9 59.4,446.9 52.6,448.4 42.6,448.7 30.4,451.2 20.6,451.2 13.6,452.2 1.0,452.2 1.0,487.4 7.1,486.4 12.4,486.4 14.9,488.2 15.6,489.9 15.6,496.2 14.4,498.2 11.4,499.2 1.0,499.7 1.0,539.7 22.9,541.4 34.9,543.9 75.4,543.9 84.6,546.2 132.1,546.2 139.4,543.7 149.4,542.4 149.4,524.9 148.4,523.9 147.6,521.9 147.1,515.4 147.6,510.9 149.4,509.4 149.4,503.4 130.1,503.4 127.1,503.9 115.1,503.9 112.9,503.4 107.4,500.9 101.4,497.2 98.4,493.9 97.1,489.2 98.1,480.9 101.1,477.9 119.6,470.9 130.6,467.9 140.9,462.2 143.1,459.7 143.9,457.4 144.1,449.7Z"/>
<path fill="#ff4500" fill-rule="evenodd" d="M142.1,448.4 138.9,446.9 133.1,446.4 125.9,444.4 114.9,444.2 98.1,445.7 93.1,446.7 82.4,446.7 74.9,447.2 67.4,448.7 58.9,448.7 53.1,450.2 43.6,450.2 29.6,452.4 18.4,452.4 12.9,453.2 1.0,452.9 1.0,485.7 7.9,484.9 13.6,485.4 16.4,487.7 17.6,492.2 17.6,496.9 16.9,498.4 15.4,499.7 12.6,500.4 1.0,501.2 1.0,538.9 23.1,539.9 36.6,541.7 77.4,541.7 83.1,543.4 111.4,543.7 116.6,544.2 132.1,543.4 141.4,539.2 144.4,536.4 145.9,530.9 145.4,517.9 144.4,511.7 143.4,508.9 141.6,507.7 137.9,506.9 116.1,506.7 109.9,504.9 100.9,499.4 97.1,496.4 95.4,491.7 95.4,487.2 96.6,481.2 97.4,479.7 99.4,477.9 119.4,469.9 130.4,466.7 139.6,461.4 141.6,459.4 142.6,456.4 142.9,451.2Z"/>
<path fill="#b22222" fill-rule="evenodd" d="M140.6,449.7 138.4,448.2 132.4,447.4 125.4,445.4 113.9,445.4 108.6,446.4 98.9,446.9 92.9,448.4 75.6,448.7 68.6,450.4 59.9,450.4 52.4,451.9 41.4,451.9 31.4,453.4 1.0,453.9 1.0,483.9 12.4,483.7 15.6,484.9 17.9,487.2 19.1,489.4 20.1,494.2 19.6,498.2 16.1,500.9 1.0,502.7 1.0,537.7 31.6,538.9 75.9,538.9 84.1,539.9 108.6,539.9 114.6,541.7 125.9,541.7 130.1,540.4 135.9,537.4 139.9,533.9 142.4,528.4 143.6,523.9 143.4,517.9 142.1,513.9 140.9,511.9 138.1,510.2 135.4,509.4 115.1,508.9 107.6,506.4 94.4,497.7 93.4,495.2 93.1,488.4 95.1,480.9 96.1,479.2 98.1,477.4 113.9,470.7 127.4,466.4 138.1,460.7 140.4,458.2 140.9,456.4Z"/>
<path fill="#ffb6c1" fill-rule="evenodd" d="M137.6,451.2 136.4,449.9 125.4,446.7 114.4,446.7 109.1,448.2 99.1,448.7 91.9,450.9 75.4,450.9 69.4,452.4 60.4,452.4 54.4,453.4 42.6,453.4 31.4,454.7 18.1,454.7 13.9,455.2 1.0,454.9 1.0,482.2 11.6,481.9 14.6,482.7 17.1,484.2 22.4,488.9 23.4,491.7 23.1,497.9 22.4,499.2 20.1,500.9 16.1,502.4 9.6,502.9 3.9,504.4 1.0,504.4 1.0,536.4 109.6,536.7 115.6,538.9 124.4,538.9 126.4,538.4 134.4,534.4 137.1,531.7 141.1,522.9 140.6,517.9 137.4,513.7 133.4,511.9 115.9,511.7 106.1,508.2 98.1,502.7 91.9,499.7 90.4,497.4 90.1,494.4 90.4,488.9 91.6,484.4 94.1,479.2 96.4,476.9 103.1,474.4 112.1,469.7 124.1,465.9 135.9,460.2 137.6,458.4 138.4,456.7 138.4,453.9Z"/>
<path fill="#ff1493" fill-rule="evenodd" d="M134.1,453.9 132.9,452.7 125.6,448.7 115.4,448.4 109.1,451.9 100.1,452.2 92.9,454.2 74.9,454.2 68.4,455.2 40.9,455.7 32.1,456.4 1.0,456.7 1.0,478.4 13.1,478.7 20.4,483.7 27.6,485.7 29.6,487.4 30.4,489.7 29.6,494.2 27.4,499.2 24.1,502.2 17.1,504.2 9.4,504.9 4.1,507.9 1.0,508.2 1.0,534.4 124.6,534.2 132.6,531.7 134.9,528.9 136.9,522.2 136.4,519.4 134.6,517.4 132.4,516.4 115.4,516.2 112.9,514.9 109.1,511.7 104.6,510.7 100.6,508.9 94.9,504.2 91.1,502.9 88.1,500.9 86.9,497.9 86.9,490.4 88.4,482.7 90.1,479.4 92.9,476.7 95.9,474.9 102.1,472.9 105.4,469.9 108.1,468.4 117.9,466.2 126.9,460.9 133.6,458.7 134.9,456.9Z"/>
<rect x="149.40" y="412.80" width="117.10" height="188.50" fill="#9370db"/>
<path fill="#0000cd" fill-rule="evenodd" d="M149.4,412.8 149.4,449.9 155.0,449.9 156.8,450.4 164.3,454.7 166.3,457.2 166.0,458.9 165.0,460.7 160.8,464.4 156.8,465.9 149.4,466.2 149.4,601.3 266.5,601.3 266.5,412.8Z"/>
<path fill="#4169e1" fill-rule="evenodd" d="M149.4,412.8 149.4,446.9 157.0,447.2 167.3,449.9 174.5,453.4 178.8,456.7 178.8,457.9 177.8,458.9 172.3,462.2 168.0,466.2 163.8,468.7 156.0,471.2 149.4,471.2 149.4,576.9 172.0,576.9 174.5,577.7 175.5,579.2 175.0,580.4 172.8,581.9 162.0,581.9 160.0,583.4 158.5,586.4 156.5,588.7 154.5,589.4 149.4,589.4 149.4,601.3 266.5,601.3 266.5,412.8Z"/>
<path fill="#7b9ef0" fill-rule="evenodd" d="M149.4,412.8 149.4,445.4 156.8,445.4 171.5,447.4 184.3,453.2 194.8,455.2 197.3,456.7 196.8,457.7 195.3,458.4 188.3,460.2 179.5,463.4 170.3,468.9 155.5,475.4 149.4,475.4 149.4,575.4 171.5,575.4 182.8,576.9 219.3,576.9 222.0,577.9 222.0,578.7 221.0,579.4 211.8,581.4 187.3,581.7 185.0,583.4 183.0,587.4 181.3,588.9 176.8,589.2 172.8,588.7 171.0,588.9 169.0,590.4 168.3,592.2 168.3,594.9 169.0,596.9 171.0,598.4 209.8,598.4 218.8,597.2 243.3,597.2 245.8,596.2 250.3,591.4 253.3,590.9 255.8,591.7 257.5,593.9 257.3,601.3 266.5,601.3 266.5,412.8Z"/>
<path fill="#b0e0e6" fill-rule="evenodd" d="M216.5,585.4 217.0,588.2 218.0,589.2 220.3,589.9 243.3,589.9 250.3,587.7 255.8,587.7 261.3,589.2 266.5,589.2 266.5,581.4 228.0,581.4 218.5,583.4 217.3,584.2ZM149.4,412.8 149.4,443.9 158.3,443.9 172.0,444.9 186.0,450.4 196.5,451.2 202.0,453.4 208.3,454.9 210.3,456.4 209.3,457.9 207.8,458.7 194.5,461.7 185.5,464.7 157.0,478.9 155.3,479.4 149.4,479.4 149.4,574.7 174.3,574.7 179.8,575.4 221.3,575.4 227.3,576.7 266.5,576.7 266.5,412.8Z"/>
<path fill="#20b2aa" fill-rule="evenodd" d="M149.4,412.8 149.4,442.2 171.5,442.4 177.5,444.9 186.5,447.4 196.8,447.7 202.5,450.4 204.8,450.9 215.8,451.7 226.3,453.2 228.3,453.9 229.8,455.7 228.8,457.2 227.0,457.9 211.5,460.2 194.5,464.4 186.3,467.9 178.3,472.4 168.8,476.4 157.0,483.2 149.4,483.7 149.4,573.9 220.3,574.4 226.0,575.2 266.5,575.2 266.5,412.8Z"/>
<path fill="#bdef60" fill-rule="evenodd" d="M266.5,452.7 258.3,452.9 234.3,459.2 227.3,460.4 212.3,461.9 206.0,463.4 200.5,465.4 194.0,469.9 187.0,471.4 181.3,474.7 176.0,476.4 172.0,478.4 169.0,480.7 165.3,484.9 162.8,486.4 157.0,487.7 149.4,487.7 149.4,573.2 221.0,573.7 225.0,574.2 266.5,574.2 266.5,483.4 262.3,483.4 260.8,482.4 260.8,481.4 262.0,480.7 266.5,480.7ZM149.4,412.8 149.4,437.7 153.8,437.7 162.3,439.7 172.3,439.7 178.3,442.9 187.0,444.4 197.5,444.4 203.8,446.4 214.3,446.4 250.3,444.9 255.3,442.9 260.0,437.2 262.0,436.4 266.5,436.4 266.5,412.8Z"/>
<path fill="#95bd30" fill-rule="evenodd" d="M266.5,455.9 260.8,455.9 251.3,458.4 211.8,464.2 208.0,465.7 204.5,467.9 202.3,470.2 199.8,474.9 197.0,477.2 187.5,477.2 177.5,479.4 175.8,481.4 176.5,488.2 174.5,490.2 172.0,490.7 149.4,490.2 149.4,572.4 266.5,573.4 266.5,485.9 260.3,485.7 258.5,484.2 258.0,482.4 258.5,480.7 260.3,479.2 266.5,478.9ZM149.4,419.9 149.4,429.9 155.8,430.2 156.8,430.7 160.8,435.2 163.0,436.2 173.5,436.4 178.8,438.9 182.8,439.7 245.3,439.4 251.0,438.2 253.8,436.9 258.0,431.7 260.3,430.2 266.5,429.9 266.5,419.9 242.3,420.2 235.0,417.9 173.0,417.9 165.5,420.2Z"/>
<path fill="#f5deb3" fill-rule="evenodd" d="M266.5,458.2 260.0,458.2 252.0,459.9 231.5,462.7 222.3,464.7 215.8,467.2 212.8,470.7 212.3,472.2 212.8,474.7 216.0,477.2 222.8,479.4 224.3,481.2 223.5,483.9 222.0,485.4 219.8,486.4 187.8,485.9 185.3,486.9 181.3,490.4 174.8,492.4 149.4,491.9 149.4,571.9 266.5,572.7 266.5,488.2 259.0,487.9 257.0,486.4 256.3,484.4 256.5,481.2 258.3,478.9 260.5,477.9 266.5,477.9Z"/>
<path fill="#dcb484" fill-rule="evenodd" d="M266.5,459.7 260.3,459.7 238.8,462.9 231.0,464.7 224.5,467.7 221.0,471.2 220.8,473.4 223.3,475.7 228.8,478.7 230.5,480.4 231.0,483.2 230.5,484.4 228.8,486.2 222.8,490.2 220.8,490.9 187.0,491.2 181.5,492.9 174.3,493.9 149.4,493.4 149.4,571.2 266.5,571.9 266.5,491.4 251.8,490.9 250.0,490.4 248.3,488.7 248.3,487.2 249.0,485.7 252.8,483.4 255.3,479.9 257.8,477.9 260.5,476.9 266.5,476.9Z"/>
<path fill="#ffdc00" fill-rule="evenodd" d="M266.5,495.7 261.0,495.4 255.8,493.4 249.8,492.9 245.3,491.7 240.8,491.7 237.0,492.4 227.3,491.9 221.5,493.7 188.8,493.7 176.8,495.2 149.4,494.9 149.4,570.4 266.5,570.9ZM216.3,537.4 218.3,535.7 221.8,535.2 252.0,536.2 254.5,537.9 256.8,543.7 256.8,545.7 255.0,547.4 252.0,548.2 227.3,547.9 225.8,547.2 222.3,543.2 218.0,541.4 216.3,539.2ZM266.5,460.9 258.5,461.2 239.3,464.7 233.8,466.9 230.8,469.2 228.8,471.9 228.8,473.4 231.3,475.9 235.8,478.2 249.0,479.9 252.5,479.7 260.3,475.9 266.5,475.9Z"/>
<path fill="#ffa500" fill-rule="evenodd" d="M266.5,498.4 261.5,498.4 255.0,495.2 247.0,494.2 242.0,494.2 237.0,495.7 149.4,496.7 149.4,569.4 266.5,569.7 266.5,550.2 260.8,550.2 257.3,551.2 252.0,551.7 228.8,551.7 224.8,551.2 219.3,549.4 212.8,550.2 196.3,550.2 194.3,549.7 192.3,547.9 190.0,543.2 185.8,539.9 184.3,537.7 184.5,535.4 186.0,533.9 188.3,533.2 213.3,532.4 229.5,532.9 234.3,533.9 245.3,533.7 254.0,534.7 256.5,536.4 259.0,540.7 261.5,542.2 266.5,542.2ZM266.5,462.4 257.3,462.7 249.0,464.2 244.3,465.7 240.3,467.9 237.5,470.4 236.8,471.7 236.8,473.4 240.0,475.7 249.3,477.7 253.3,477.4 260.5,474.7 266.5,474.7Z"/>
<path fill="#ff4500" fill-rule="evenodd" d="M149.4,539.2 149.4,568.2 182.0,567.7 188.3,566.4 266.5,566.4 266.5,556.7 224.3,556.4 193.5,556.7 187.8,557.2 185.3,555.9 183.8,554.2 183.3,552.9 183.5,545.2 182.5,543.4 179.5,541.2 176.3,540.2 171.5,539.7ZM266.5,538.9 266.5,500.4 259.3,499.9 255.3,497.4 251.0,496.4 242.8,496.4 236.5,498.7 149.4,498.7 149.4,517.4 196.3,517.4 197.8,517.9 199.5,519.4 201.5,523.4 202.8,524.7 205.0,525.4 212.0,525.7 216.5,529.4 218.3,530.2 227.3,530.4 235.8,532.4 246.0,532.2 254.0,533.2 257.3,534.7 259.5,537.4 261.3,538.7ZM266.5,464.2 258.5,464.4 250.8,466.4 247.8,468.2 245.5,470.4 244.8,472.7 247.0,474.7 252.0,475.7 255.8,474.7 260.5,472.4 266.5,472.2Z"/>
<path fill="#b22222" fill-rule="evenodd" d="M149.4,541.4 149.4,566.2 157.0,566.2 163.0,564.7 178.5,564.7 181.3,564.2 183.0,562.9 183.3,560.7 182.8,559.7 178.3,556.4 177.0,554.7 176.5,552.2 176.5,546.2 175.0,543.9 173.0,543.2 162.3,542.9 156.0,541.4ZM266.5,535.4 266.5,502.2 259.5,501.9 253.5,499.4 247.3,498.9 243.0,499.2 237.3,501.2 149.4,500.9 149.4,513.4 197.0,513.4 203.3,514.4 213.3,514.7 214.3,515.2 215.5,516.9 216.0,520.7 217.3,523.9 219.5,525.9 228.8,526.4 234.8,530.2 244.3,530.2 249.5,531.4 253.8,531.7 256.8,532.4 261.5,535.2Z"/>
<path fill="#ffb6c1" fill-rule="evenodd" d="M149.4,543.7 149.4,563.7 156.0,563.4 158.3,561.7 158.8,560.2 158.8,546.9 158.0,545.2 156.5,544.2ZM266.5,531.4 266.5,504.2 259.3,504.2 252.8,502.9 243.5,502.4 235.5,504.7 149.4,504.4 149.4,507.7 198.5,507.7 215.8,506.9 226.5,507.4 228.8,508.2 230.3,509.4 231.3,511.2 232.0,514.4 233.8,516.7 237.8,517.7 240.0,519.7 242.3,524.9 244.3,526.7 248.8,529.2 251.3,529.9 256.0,530.2 261.0,531.4Z"/>
<path fill="#ff1493" fill-rule="evenodd" d="M249.8,509.4 248.5,511.4 247.5,517.7 247.5,521.4 248.8,524.2 250.5,525.7 253.0,526.4 266.5,526.2 266.5,508.2 252.3,508.4Z"/>
<rect x="266.50" y="412.80" width="63.00" height="188.50" fill="#9370db"/>
<path fill="#0000cd" fill-rule="evenodd" d="M266.5,580.2 266.5,601.3 329.5,601.3 329.5,580.2 323.9,580.4 316.9,583.7 275.1,583.7ZM266.5,412.8 266.5,565.4 274.1,563.7 317.9,563.7 325.1,565.4 329.5,565.4 329.5,412.8Z"/>
<path fill="#4169e1" fill-rule="evenodd" d="M266.5,586.4 266.5,601.3 329.5,601.3 329.5,586.4 325.1,586.4 317.4,588.4 275.1,588.2ZM266.5,412.8 266.5,560.2 272.1,559.7 329.5,559.9 329.5,412.8Z"/>
<path fill="#7b9ef0" fill-rule="evenodd" d="M266.5,590.9 266.5,601.3 329.5,601.3 329.5,590.9 317.6,591.7 310.6,591.2ZM266.5,412.8 266.5,558.2 278.4,557.4 329.5,557.7 329.5,412.8Z"/>
<path fill="#b0e0e6" fill-rule="evenodd" d="M266.5,596.9 266.5,601.3 270.6,601.3 269.4,597.9ZM312.1,600.9 329.5,601.3 329.5,596.9 315.6,596.7 314.1,597.2 312.9,598.4ZM266.5,412.8 266.5,556.4 279.1,555.7 329.5,555.9 329.5,412.8Z"/>
<path fill="#20b2aa" fill-rule="evenodd" d="M266.5,412.8 266.5,554.4 276.9,553.9 329.5,554.2 329.5,412.8ZM281.1,487.2 282.9,484.7 284.9,483.9 286.9,483.9 291.4,485.2 292.6,486.4 293.1,488.2 292.1,489.7 290.6,490.4 283.6,490.9 281.1,489.2Z"/>
<path fill="#bdef60" fill-rule="evenodd" d="M266.5,429.4 266.5,544.7 268.9,546.2 270.4,549.7 271.4,550.7 275.6,551.9 329.5,551.9 329.5,436.7 316.6,436.7 312.9,437.2 308.1,438.7 300.1,438.7 297.6,437.4 295.1,431.7 292.6,429.7ZM276.1,487.7 278.6,483.4 280.6,481.9 284.1,481.2 291.4,481.2 294.1,481.7 296.1,483.2 297.6,486.4 297.9,488.9 296.4,491.2 293.1,492.7 283.1,493.2 278.1,491.4 276.4,489.7Z"/>
<path fill="#95bd30" fill-rule="evenodd" d="M329.5,439.9 316.1,439.9 310.6,441.4 306.1,441.9 266.5,441.9 266.5,485.7 269.9,485.2 275.4,482.2 279.6,480.7 283.1,480.2 292.9,480.2 295.6,480.7 298.4,481.9 300.6,484.7 301.9,487.4 301.9,489.4 300.4,491.4 296.4,493.7 292.6,494.7 283.4,494.9 272.6,492.9 266.5,492.4 266.5,542.9 269.6,543.9 274.6,548.7 281.4,550.2 320.1,550.2 324.6,549.4 329.5,549.4Z"/>
<path fill="#f5deb3" fill-rule="evenodd" d="M329.5,442.2 315.1,441.9 308.1,443.2 266.5,443.2 266.5,482.7 280.4,479.7 295.1,479.7 299.1,480.7 301.9,482.2 304.9,485.7 305.9,487.7 305.9,489.9 303.6,492.4 294.6,496.2 282.4,496.7 266.5,495.9 266.5,541.7 271.1,543.2 276.4,546.7 282.4,548.2 319.1,548.2 324.9,546.7 329.5,546.7 329.5,475.4 325.4,475.4 323.4,473.7 323.9,472.2 325.1,471.4 329.5,471.2Z"/>
<path fill="#dcb484" fill-rule="evenodd" d="M329.5,443.7 314.9,443.2 306.6,444.2 266.5,444.2 266.5,480.9 281.6,478.9 296.4,479.2 300.9,480.2 304.1,481.7 307.4,484.9 308.9,488.4 308.4,491.7 306.6,493.4 301.4,495.9 293.1,498.7 266.5,498.9 266.9,540.9 268.6,540.9 277.1,544.7 282.9,546.2 317.6,546.2 324.6,543.4 329.5,543.2 329.5,476.4 324.1,476.2 322.1,473.9 322.4,472.2 323.6,470.9 326.1,470.2 329.5,470.2Z"/>
<path fill="#ffdc00" fill-rule="evenodd" d="M329.5,444.9 318.9,444.2 309.1,444.9 266.5,444.9 266.5,479.9 281.1,478.4 294.9,478.4 300.1,479.2 303.9,480.2 307.1,481.9 309.4,484.4 310.9,489.4 310.6,492.9 308.9,495.4 293.6,501.2 266.5,501.7 266.5,539.9 271.9,540.7 282.6,544.2 313.6,544.2 318.4,543.4 325.4,539.2 329.5,539.2 329.5,477.4 325.1,477.4 323.4,476.9 321.1,474.4 321.4,471.9 323.1,470.2 325.1,469.4 329.5,469.4Z"/>
<path fill="#ffa500" fill-rule="evenodd" d="M329.5,445.9 323.4,445.9 319.1,445.2 309.9,445.7 266.5,445.7 266.5,479.2 281.1,477.9 294.9,477.9 305.1,479.7 308.6,481.2 310.9,483.7 313.4,492.7 314.6,493.9 318.6,494.9 320.4,496.4 319.1,498.4 317.4,499.2 313.1,499.9 306.6,499.7 298.9,501.7 293.1,503.9 266.5,504.2 266.5,538.9 275.1,539.9 283.9,542.4 309.4,542.4 316.6,541.2 324.1,536.2 329.5,535.7 329.5,478.4 323.1,477.9 321.9,477.2 320.1,474.9 320.4,471.7 321.9,469.9 324.9,468.7 329.5,468.7Z"/>
<path fill="#ff4500" fill-rule="evenodd" d="M329.5,499.4 324.6,499.4 318.9,501.4 311.4,503.2 299.4,504.2 293.1,506.2 266.5,506.2 266.5,537.7 275.9,538.2 283.1,540.4 309.9,540.4 315.4,538.9 318.9,537.2 323.9,533.7 329.5,533.2ZM329.5,447.2 323.9,447.2 319.4,446.2 266.5,446.7 266.5,478.7 281.9,477.4 294.4,477.4 305.4,478.9 308.6,479.9 311.9,482.2 314.9,489.7 316.6,490.9 320.4,490.7 324.1,487.4 325.4,486.9 329.5,486.9 329.5,479.4 322.6,478.9 319.6,476.7 318.9,474.7 319.1,471.9 321.4,469.2 324.1,467.9 329.5,467.9Z"/>
<path fill="#b22222" fill-rule="evenodd" d="M329.5,501.7 323.9,501.9 311.6,505.9 307.1,506.7 301.1,506.4 293.4,507.9 266.5,507.9 266.5,536.2 276.9,536.2 284.9,538.4 307.6,538.4 311.9,537.7 317.1,535.7 324.4,530.9 329.5,530.7ZM329.5,448.7 324.4,448.7 318.6,447.2 266.5,447.4 266.5,477.9 283.9,476.9 297.4,477.2 305.1,478.2 311.1,479.7 312.6,480.4 317.1,485.7 319.6,485.7 324.1,483.7 329.5,483.4 329.5,480.9 323.9,480.9 319.4,479.2 318.1,477.4 317.6,475.2 318.1,471.4 320.4,468.7 324.4,466.9 329.5,466.9Z"/>
<path fill="#ffb6c1" fill-rule="evenodd" d="M329.5,504.2 323.1,504.4 314.4,507.7 307.9,508.9 299.4,508.7 293.1,509.7 266.5,509.7 266.5,534.2 278.1,534.2 283.9,535.7 308.9,535.7 317.4,533.4 319.6,532.2 324.4,527.9 329.5,527.7ZM329.5,450.9 323.9,450.7 317.6,448.4 266.5,448.7 266.5,477.4 277.9,476.7 297.1,476.7 310.9,478.7 314.9,478.7 316.1,476.7 316.9,471.2 319.4,467.9 324.1,465.7 329.5,465.7Z"/>
<path fill="#ff1493" fill-rule="evenodd" d="M329.5,508.4 324.1,508.4 320.1,509.7 309.1,511.4 266.5,511.7 266.5,531.7 277.6,531.4 284.4,532.4 308.1,532.4 316.9,530.9 322.4,525.2 325.6,524.2 329.5,524.2ZM266.5,476.7 297.4,476.2 310.4,477.7 313.4,477.2 314.6,475.9 315.9,469.2 318.4,466.2 323.4,462.9 329.5,462.4 329.5,454.2 323.4,453.9 316.4,451.2 266.5,451.2Z"/>
<rect x="329.50" y="412.80" width="53.70" height="188.50" fill="#4169e1"/>
<path fill="#7b9ef0" fill-rule="evenodd" d="M329.5,412.8 329.5,444.2 332.4,444.9 334.4,446.7 335.6,448.9 335.4,450.2 333.9,451.9 331.6,453.2 329.5,453.4 329.5,461.2 333.6,462.2 335.9,464.2 336.4,465.4 335.9,467.2 334.4,468.9 331.9,470.2 329.5,470.4 329.5,599.2 340.4,598.9 345.9,600.7 356.1,600.7 363.4,598.9 383.2,599.2 383.2,412.8Z"/>
<path fill="#b0e0e6" fill-rule="evenodd" d="M344.4,591.2 344.9,594.9 347.4,596.7 352.4,596.7 356.1,595.9 357.9,594.7 358.6,592.7 358.4,591.2 357.1,589.4 352.4,588.2 346.6,588.4 344.9,589.9ZM329.5,412.8 329.5,439.2 332.9,439.7 337.9,443.4 341.6,445.2 343.6,447.4 343.4,450.2 338.9,454.2 336.9,456.7 337.1,458.4 341.9,463.7 341.9,467.4 340.4,469.9 336.4,473.7 333.1,475.4 329.5,475.9 329.5,576.9 333.4,577.4 339.4,581.7 364.9,581.7 369.4,580.2 373.9,579.7 379.4,577.2 383.2,576.9 383.2,412.8Z"/>
<path fill="#20b2aa" fill-rule="evenodd" d="M329.5,412.8 329.5,435.4 332.9,435.4 339.9,437.2 348.6,436.9 351.1,439.2 352.1,442.2 351.6,448.2 350.6,451.4 348.9,453.2 345.4,454.9 343.9,456.9 343.9,458.2 346.1,463.7 345.9,467.2 344.1,470.9 342.1,473.7 337.9,477.2 332.9,479.4 329.5,479.7 329.5,575.4 332.1,575.4 338.4,576.7 374.4,576.7 378.9,575.7 383.2,575.4 383.2,446.2 364.4,446.2 362.1,445.4 360.4,443.2 360.6,440.7 361.6,439.7 363.6,438.9 383.2,438.9 383.2,412.8Z"/>
<path fill="#bdef60" fill-rule="evenodd" d="M383.2,453.9 364.4,453.9 362.6,454.4 357.6,459.2 352.4,461.4 351.4,462.4 347.4,471.7 341.1,478.7 335.6,481.9 329.5,482.9 329.5,574.4 339.1,575.4 374.6,575.4 379.1,574.7 383.2,574.7ZM329.5,412.8 329.5,430.2 347.9,429.9 350.6,431.2 354.9,436.4 356.6,436.9 364.6,435.4 383.2,435.4 383.2,412.8Z"/>
<path fill="#95bd30" fill-rule="evenodd" d="M383.2,458.2 364.1,458.9 360.9,460.2 354.6,464.7 349.6,473.9 340.6,482.9 335.9,484.9 329.5,485.4 329.5,573.7 338.1,574.4 375.9,574.4 383.2,573.9 383.2,486.4 381.4,486.2 379.9,483.7 380.4,481.2 381.4,480.4 383.2,480.2Z"/>
<path fill="#f5deb3" fill-rule="evenodd" d="M383.2,459.9 365.4,461.2 361.1,462.7 357.4,466.4 353.4,474.4 346.1,481.2 342.4,485.9 338.6,487.7 329.5,487.9 329.5,572.9 341.6,573.7 375.6,573.7 383.2,573.2 383.2,491.2 378.4,490.9 377.1,490.2 376.4,488.9 378.1,480.9 379.6,479.2 383.2,478.4Z"/>
<path fill="#dcb484" fill-rule="evenodd" d="M383.2,461.2 368.1,462.9 363.1,464.4 360.4,467.7 358.4,472.9 355.6,477.4 343.9,489.7 340.6,491.4 329.5,491.4 329.5,572.4 344.6,572.9 375.4,572.9 383.2,572.4 383.2,493.9 376.6,493.9 374.1,493.4 370.6,491.9 369.1,489.9 369.6,487.9 375.1,483.7 376.9,480.2 378.4,478.4 380.1,477.4 383.2,477.2Z"/>
<path fill="#ffdc00" fill-rule="evenodd" d="M329.5,495.7 329.5,571.7 348.4,572.2 373.9,572.2 383.2,571.7 383.2,496.2 373.9,496.2 364.6,494.7 355.6,494.7 352.1,494.2 347.1,494.2 340.9,495.7ZM341.6,537.4 342.4,536.4 345.6,535.4 353.9,535.7 361.1,536.9 362.6,538.2 362.6,539.2 359.9,540.9 354.9,541.2 350.4,539.9 344.9,539.4 342.9,538.7ZM383.2,462.4 374.6,463.7 368.6,465.2 365.9,466.4 363.4,469.4 359.6,480.4 360.1,483.2 361.4,484.4 364.1,484.9 371.1,482.9 373.4,481.9 378.4,476.9 380.9,475.9 383.2,475.9Z"/>
<path fill="#ffa500" fill-rule="evenodd" d="M329.5,539.7 329.5,570.7 346.6,571.2 383.2,570.9 383.2,558.2 356.4,558.2 346.1,555.2 344.1,553.7 343.9,551.7 345.4,549.9 349.6,548.7 350.9,547.7 351.4,545.2 350.4,543.9 348.4,543.2 339.1,542.4 333.1,540.2ZM329.5,498.4 329.5,529.7 331.9,529.9 335.1,531.4 339.4,532.4 354.4,533.7 364.6,535.2 367.9,536.4 373.6,541.2 378.9,542.9 383.2,543.2 383.2,498.2ZM383.2,464.4 379.1,464.7 370.4,467.4 367.9,468.9 365.9,472.7 366.1,476.2 367.1,477.9 369.4,479.2 372.4,479.2 380.1,474.4 383.2,474.2Z"/>
<path fill="#ff4500" fill-rule="evenodd" d="M329.5,543.2 329.5,569.4 383.2,569.4 383.2,564.7 355.9,564.7 354.1,564.2 347.9,558.9 337.4,554.4 335.9,552.7 335.1,547.4 334.1,544.9 332.1,543.4ZM383.2,499.7 352.6,499.9 347.9,500.4 329.5,500.2 329.5,525.7 333.4,526.2 339.1,528.9 344.6,530.7 367.9,534.4 373.1,536.7 378.9,540.2 383.2,540.7ZM376.9,471.2 375.4,470.2 371.9,470.4 370.1,471.7 369.6,473.9 371.1,475.7 373.4,475.7 376.9,473.2Z"/>
<path fill="#b22222" fill-rule="evenodd" d="M329.5,557.4 329.5,566.4 340.4,566.4 342.6,565.7 344.1,563.7 343.9,561.2 341.9,559.7 333.1,557.7ZM383.2,500.9 354.4,501.2 349.6,501.9 329.5,501.7 329.5,522.9 333.4,523.2 344.4,527.9 349.9,529.7 372.1,534.2 379.6,537.9 383.2,538.4Z"/>
<path fill="#ffb6c1" fill-rule="evenodd" d="M383.2,535.7 383.2,502.2 356.6,502.4 348.6,503.9 329.5,503.9 329.5,518.2 335.9,519.2 345.6,525.4 356.6,529.2 373.9,532.9 380.4,535.4Z"/>
<path fill="#ff1493" fill-rule="evenodd" d="M352.6,505.9 352.1,507.2 351.9,514.7 350.6,517.2 347.9,520.4 348.6,522.2 351.9,523.9 358.9,525.9 367.6,529.7 380.4,532.2 383.2,532.2 383.2,504.2 355.4,504.4Z"/>
<line x1="149.4" y1="86" x2="149.4" y2="278.5" stroke="#333" stroke-width="0.9"/>
<line x1="266.5" y1="86" x2="266.5" y2="278.5" stroke="#333" stroke-width="0.9"/>
<line x1="329.5" y1="86" x2="329.5" y2="278.5" stroke="#333" stroke-width="0.9"/>
<line x1="149.4" y1="411" x2="149.4" y2="603.4" stroke="#333" stroke-width="0.9"/>
<line x1="266.5" y1="411" x2="266.5" y2="603.4" stroke="#333" stroke-width="0.9"/>
<line x1="329.5" y1="411" x2="329.5" y2="603.4" stroke="#333" stroke-width="0.9"/>
<rect x="0.5" y="86.3" width="383.40" height="191.90" fill="none" stroke="#4a4a4a" stroke-width="1"/>
<line x1="383.9" y1="86" x2="383.9" y2="278.6" stroke="#333" stroke-width="1.6"/>
<rect x="392.5" y="86.3" width="383.90" height="191.90" fill="none" stroke="#4a4a4a" stroke-width="1"/>
<rect x="0.5" y="411" width="383.40" height="192.00" fill="none" stroke="#4a4a4a" stroke-width="1"/>
<line x1="383.9" y1="410.5" x2="383.9" y2="603.5" stroke="#333" stroke-width="1.6"/>
<rect x="392.5" y="411" width="383.90" height="192.00" fill="none" stroke="#4a4a4a" stroke-width="1"/>
<text x="100.3" y="302.5" font-size="12.5" style="font-family:'DejaVu Sans',sans-serif;font-weight:200;stroke:#000;stroke-width:0.2px;" fill="#111" textLength="183.3" lengthAdjust="spacingAndGlyphs">Min =  36.62 Max = 165.43</text>
<text x="492" y="302.5" font-size="12.5" style="font-family:'DejaVu Sans',sans-serif;font-weight:200;stroke:#000;stroke-width:0.2px;" fill="#111" textLength="184" lengthAdjust="spacingAndGlyphs">Min =  51.03 Max = 102.60</text>
<rect x="9.00" y="313.9" width="22.97" height="7.7" fill="#9370db"/>
<rect x="31.97" y="313.9" width="22.97" height="7.7" fill="#0000cd"/>
<rect x="54.94" y="313.9" width="22.97" height="7.7" fill="#4169e1"/>
<rect x="77.91" y="313.9" width="22.97" height="7.7" fill="#7b9ef0"/>
<rect x="100.88" y="313.9" width="22.97" height="7.7" fill="#b0e0e6"/>
<rect x="123.85" y="313.9" width="22.97" height="7.7" fill="#20b2aa"/>
<rect x="146.82" y="313.9" width="22.97" height="7.7" fill="#bdef60"/>
<rect x="169.79" y="313.9" width="22.97" height="7.7" fill="#95bd30"/>
<rect x="192.76" y="313.9" width="22.97" height="7.7" fill="#f5deb3"/>
<rect x="215.73" y="313.9" width="22.97" height="7.7" fill="#dcb484"/>
<rect x="238.70" y="313.9" width="22.97" height="7.7" fill="#ffdc00"/>
<rect x="261.67" y="313.9" width="22.97" height="7.7" fill="#ffa500"/>
<rect x="284.64" y="313.9" width="22.97" height="7.7" fill="#ff4500"/>
<rect x="307.61" y="313.9" width="22.97" height="7.7" fill="#b22222"/>
<rect x="330.58" y="313.9" width="22.97" height="7.7" fill="#ffb6c1"/>
<rect x="353.55" y="313.9" width="22.97" height="7.7" fill="#ff1493"/>
<line x1="9.00" y1="313.9" x2="9.00" y2="321.59999999999997" stroke="#222" stroke-width="0.8"/>
<line x1="31.97" y1="313.9" x2="31.97" y2="321.59999999999997" stroke="#222" stroke-width="0.8"/>
<line x1="54.94" y1="313.9" x2="54.94" y2="321.59999999999997" stroke="#222" stroke-width="0.8"/>
<line x1="77.91" y1="313.9" x2="77.91" y2="321.59999999999997" stroke="#222" stroke-width="0.8"/>
<line x1="100.88" y1="313.9" x2="100.88" y2="321.59999999999997" stroke="#222" stroke-width="0.8"/>
<line x1="123.85" y1="313.9" x2="123.85" y2="321.59999999999997" stroke="#222" stroke-width="0.8"/>
<line x1="146.82" y1="313.9" x2="146.82" y2="321.59999999999997" stroke="#222" stroke-width="0.8"/>
<line x1="169.79" y1="313.9" x2="169.79" y2="321.59999999999997" stroke="#222" stroke-width="0.8"/>
<line x1="192.76" y1="313.9" x2="192.76" y2="321.59999999999997" stroke="#222" stroke-width="0.8"/>
<line x1="215.73" y1="313.9" x2="215.73" y2="321.59999999999997" stroke="#222" stroke-width="0.8"/>
<line x1="238.70" y1="313.9" x2="238.70" y2="321.59999999999997" stroke="#222" stroke-width="0.8"/>
<line x1="261.67" y1="313.9" x2="261.67" y2="321.59999999999997" stroke="#222" stroke-width="0.8"/>
<line x1="284.64" y1="313.9" x2="284.64" y2="321.59999999999997" stroke="#222" stroke-width="0.8"/>
<line x1="307.61" y1="313.9" x2="307.61" y2="321.59999999999997" stroke="#222" stroke-width="0.8"/>
<line x1="330.58" y1="313.9" x2="330.58" y2="321.59999999999997" stroke="#222" stroke-width="0.8"/>
<line x1="353.55" y1="313.9" x2="353.55" y2="321.59999999999997" stroke="#222" stroke-width="0.8"/>
<line x1="376.52" y1="313.9" x2="376.52" y2="321.59999999999997" stroke="#222" stroke-width="0.8"/>
<rect x="9" y="313.9" width="367.52" height="7.7" fill="none" stroke="#222" stroke-width="0.8"/>
<text x="31.97" y="335.2" font-size="12.5" style="font-family:'DejaVu Sans',sans-serif;font-weight:200;stroke:#000;stroke-width:0.2px;" fill="#111" text-anchor="middle">50</text>
<text x="54.94" y="335.2" font-size="12.5" style="font-family:'DejaVu Sans',sans-serif;font-weight:200;stroke:#000;stroke-width:0.2px;" fill="#111" text-anchor="middle">60</text>
<text x="77.91" y="335.2" font-size="12.5" style="font-family:'DejaVu Sans',sans-serif;font-weight:200;stroke:#000;stroke-width:0.2px;" fill="#111" text-anchor="middle">70</text>
<text x="100.88" y="335.2" font-size="12.5" style="font-family:'DejaVu Sans',sans-serif;font-weight:200;stroke:#000;stroke-width:0.2px;" fill="#111" text-anchor="middle">75</text>
<text x="123.85" y="335.2" font-size="12.5" style="font-family:'DejaVu Sans',sans-serif;font-weight:200;stroke:#000;stroke-width:0.2px;" fill="#111" text-anchor="middle">80</text>
<text x="146.82" y="335.2" font-size="12.5" style="font-family:'DejaVu Sans',sans-serif;font-weight:200;stroke:#000;stroke-width:0.2px;" fill="#111" text-anchor="middle">85</text>
<text x="169.79" y="335.2" font-size="12.5" style="font-family:'DejaVu Sans',sans-serif;font-weight:200;stroke:#000;stroke-width:0.2px;" fill="#111" text-anchor="middle">90</text>
<text x="192.76" y="335.2" font-size="12.5" style="font-family:'DejaVu Sans',sans-serif;font-weight:200;stroke:#000;stroke-width:0.2px;" fill="#111" text-anchor="middle">100</text>
<text x="215.73" y="335.2" font-size="12.5" style="font-family:'DejaVu Sans',sans-serif;font-weight:200;stroke:#000;stroke-width:0.2px;" fill="#111" text-anchor="middle">110</text>
<text x="238.70" y="335.2" font-size="12.5" style="font-family:'DejaVu Sans',sans-serif;font-weight:200;stroke:#000;stroke-width:0.2px;" fill="#111" text-anchor="middle">120</text>
<text x="261.67" y="335.2" font-size="12.5" style="font-family:'DejaVu Sans',sans-serif;font-weight:200;stroke:#000;stroke-width:0.2px;" fill="#111" text-anchor="middle">130</text>
<text x="284.64" y="335.2" font-size="12.5" style="font-family:'DejaVu Sans',sans-serif;font-weight:200;stroke:#000;stroke-width:0.2px;" fill="#111" text-anchor="middle">140</text>
<text x="307.61" y="335.2" font-size="12.5" style="font-family:'DejaVu Sans',sans-serif;font-weight:200;stroke:#000;stroke-width:0.2px;" fill="#111" text-anchor="middle">160</text>
<text x="330.58" y="335.2" font-size="12.5" style="font-family:'DejaVu Sans',sans-serif;font-weight:200;stroke:#000;stroke-width:0.2px;" fill="#111" text-anchor="middle">180</text>
<text x="353.55" y="335.2" font-size="12.5" style="font-family:'DejaVu Sans',sans-serif;font-weight:200;stroke:#000;stroke-width:0.2px;" fill="#111" text-anchor="middle">200</text>
<rect x="401.00" y="313.9" width="22.97" height="7.7" fill="#9370db"/>
<rect x="423.97" y="313.9" width="22.97" height="7.7" fill="#0000cd"/>
<rect x="446.94" y="313.9" width="22.97" height="7.7" fill="#4169e1"/>
<rect x="469.91" y="313.9" width="22.97" height="7.7" fill="#7b9ef0"/>
<rect x="492.88" y="313.9" width="22.97" height="7.7" fill="#b0e0e6"/>
<rect x="515.85" y="313.9" width="22.97" height="7.7" fill="#20b2aa"/>
<rect x="538.82" y="313.9" width="22.97" height="7.7" fill="#bdef60"/>
<rect x="561.79" y="313.9" width="22.97" height="7.7" fill="#95bd30"/>
<rect x="584.76" y="313.9" width="22.97" height="7.7" fill="#f5deb3"/>
<rect x="607.73" y="313.9" width="22.97" height="7.7" fill="#dcb484"/>
<rect x="630.70" y="313.9" width="22.97" height="7.7" fill="#ffdc00"/>
<rect x="653.67" y="313.9" width="22.97" height="7.7" fill="#ffa500"/>
<rect x="676.64" y="313.9" width="22.97" height="7.7" fill="#ff4500"/>
<rect x="699.61" y="313.9" width="22.97" height="7.7" fill="#b22222"/>
<rect x="722.58" y="313.9" width="22.97" height="7.7" fill="#ffb6c1"/>
<rect x="745.55" y="313.9" width="22.97" height="7.7" fill="#ff1493"/>
<line x1="401.00" y1="313.9" x2="401.00" y2="321.59999999999997" stroke="#222" stroke-width="0.8"/>
<line x1="423.97" y1="313.9" x2="423.97" y2="321.59999999999997" stroke="#222" stroke-width="0.8"/>
<line x1="446.94" y1="313.9" x2="446.94" y2="321.59999999999997" stroke="#222" stroke-width="0.8"/>
<line x1="469.91" y1="313.9" x2="469.91" y2="321.59999999999997" stroke="#222" stroke-width="0.8"/>
<line x1="492.88" y1="313.9" x2="492.88" y2="321.59999999999997" stroke="#222" stroke-width="0.8"/>
<line x1="515.85" y1="313.9" x2="515.85" y2="321.59999999999997" stroke="#222" stroke-width="0.8"/>
<line x1="538.82" y1="313.9" x2="538.82" y2="321.59999999999997" stroke="#222" stroke-width="0.8"/>
<line x1="561.79" y1="313.9" x2="561.79" y2="321.59999999999997" stroke="#222" stroke-width="0.8"/>
<line x1="584.76" y1="313.9" x2="584.76" y2="321.59999999999997" stroke="#222" stroke-width="0.8"/>
<line x1="607.73" y1="313.9" x2="607.73" y2="321.59999999999997" stroke="#222" stroke-width="0.8"/>
<line x1="630.70" y1="313.9" x2="630.70" y2="321.59999999999997" stroke="#222" stroke-width="0.8"/>
<line x1="653.67" y1="313.9" x2="653.67" y2="321.59999999999997" stroke="#222" stroke-width="0.8"/>
<line x1="676.64" y1="313.9" x2="676.64" y2="321.59999999999997" stroke="#222" stroke-width="0.8"/>
<line x1="699.61" y1="313.9" x2="699.61" y2="321.59999999999997" stroke="#222" stroke-width="0.8"/>
<line x1="722.58" y1="313.9" x2="722.58" y2="321.59999999999997" stroke="#222" stroke-width="0.8"/>
<line x1="745.55" y1="313.9" x2="745.55" y2="321.59999999999997" stroke="#222" stroke-width="0.8"/>
<line x1="768.52" y1="313.9" x2="768.52" y2="321.59999999999997" stroke="#222" stroke-width="0.8"/>
<rect x="401" y="313.9" width="367.52" height="7.7" fill="none" stroke="#222" stroke-width="0.8"/>
<text x="423.97" y="335.2" font-size="12.5" style="font-family:'DejaVu Sans',sans-serif;font-weight:200;stroke:#000;stroke-width:0.2px;" fill="#111" text-anchor="middle">50</text>
<text x="446.94" y="335.2" font-size="12.5" style="font-family:'DejaVu Sans',sans-serif;font-weight:200;stroke:#000;stroke-width:0.2px;" fill="#111" text-anchor="middle">60</text>
<text x="469.91" y="335.2" font-size="12.5" style="font-family:'DejaVu Sans',sans-serif;font-weight:200;stroke:#000;stroke-width:0.2px;" fill="#111" text-anchor="middle">70</text>
<text x="492.88" y="335.2" font-size="12.5" style="font-family:'DejaVu Sans',sans-serif;font-weight:200;stroke:#000;stroke-width:0.2px;" fill="#111" text-anchor="middle">75</text>
<text x="515.85" y="335.2" font-size="12.5" style="font-family:'DejaVu Sans',sans-serif;font-weight:200;stroke:#000;stroke-width:0.2px;" fill="#111" text-anchor="middle">80</text>
<text x="538.82" y="335.2" font-size="12.5" style="font-family:'DejaVu Sans',sans-serif;font-weight:200;stroke:#000;stroke-width:0.2px;" fill="#111" text-anchor="middle">85</text>
<text x="561.79" y="335.2" font-size="12.5" style="font-family:'DejaVu Sans',sans-serif;font-weight:200;stroke:#000;stroke-width:0.2px;" fill="#111" text-anchor="middle">90</text>
<text x="584.76" y="335.2" font-size="12.5" style="font-family:'DejaVu Sans',sans-serif;font-weight:200;stroke:#000;stroke-width:0.2px;" fill="#111" text-anchor="middle">100</text>
<text x="607.73" y="335.2" font-size="12.5" style="font-family:'DejaVu Sans',sans-serif;font-weight:200;stroke:#000;stroke-width:0.2px;" fill="#111" text-anchor="middle">110</text>
<text x="630.70" y="335.2" font-size="12.5" style="font-family:'DejaVu Sans',sans-serif;font-weight:200;stroke:#000;stroke-width:0.2px;" fill="#111" text-anchor="middle">120</text>
<text x="653.67" y="335.2" font-size="12.5" style="font-family:'DejaVu Sans',sans-serif;font-weight:200;stroke:#000;stroke-width:0.2px;" fill="#111" text-anchor="middle">130</text>
<text x="676.64" y="335.2" font-size="12.5" style="font-family:'DejaVu Sans',sans-serif;font-weight:200;stroke:#000;stroke-width:0.2px;" fill="#111" text-anchor="middle">140</text>
<text x="699.61" y="335.2" font-size="12.5" style="font-family:'DejaVu Sans',sans-serif;font-weight:200;stroke:#000;stroke-width:0.2px;" fill="#111" text-anchor="middle">160</text>
<text x="722.58" y="335.2" font-size="12.5" style="font-family:'DejaVu Sans',sans-serif;font-weight:200;stroke:#000;stroke-width:0.2px;" fill="#111" text-anchor="middle">180</text>
<text x="745.55" y="335.2" font-size="12.5" style="font-family:'DejaVu Sans',sans-serif;font-weight:200;stroke:#000;stroke-width:0.2px;" fill="#111" text-anchor="middle">200</text>
<text x="192" y="373.2" font-size="16" style="font-family:'Liberation Sans',sans-serif;stroke:#000;stroke-width:0.25px;" fill="#000" text-anchor="middle">symmetric_land - aquaplanet</text>
<text x="584" y="373.2" font-size="16" style="font-family:'Liberation Sans',sans-serif;stroke:#000;stroke-width:0.25px;" fill="#000" text-anchor="middle">T-test of the two means at each grid point</text>
<text x="0" y="401.5" font-size="14" style="font-family:'DejaVu Sans',sans-serif;font-weight:200;stroke:#000;stroke-width:0.2px;" fill="#111">mean =</text>
<text x="69.3" y="401.5" font-size="14" style="font-family:'DejaVu Sans',sans-serif;font-weight:200;stroke:#000;stroke-width:0.2px;" fill="#111" textLength="38.7" lengthAdjust="spacingAndGlyphs">13.85</text>
<text x="140.5" y="401.5" font-size="14" style="font-family:'DejaVu Sans',sans-serif;font-weight:200;stroke:#000;stroke-width:0.2px;" fill="#111">rmse =</text>
<text x="200" y="401.5" font-size="14" style="font-family:'DejaVu Sans',sans-serif;font-weight:200;stroke:#000;stroke-width:0.2px;" fill="#111" textLength="45" lengthAdjust="spacingAndGlyphs">31.49</text>
<text x="347" y="398.5" font-size="14" style="font-family:'DejaVu Sans',sans-serif;font-weight:200;stroke:#000;stroke-width:0.2px;" fill="#111">W/m</text>
<text x="380.5" y="392.5" font-size="9.5" style="font-family:'DejaVu Sans',sans-serif;font-weight:200;stroke:#000;stroke-width:0.2px;" fill="#111">2</text>
<text x="584" y="398.5" font-size="13.5" style="font-family:'DejaVu Sans',sans-serif;font-weight:200;stroke:#000;stroke-width:0.2px;" fill="#111" text-anchor="middle" textLength="317.7" lengthAdjust="spacingAndGlyphs">Colored cells are significant at the 0.05 level</text>
<text x="98.9" y="627" font-size="12.5" style="font-family:'DejaVu Sans',sans-serif;font-weight:200;stroke:#000;stroke-width:0.2px;" fill="#111" textLength="187.7" lengthAdjust="spacingAndGlyphs">Min = −50.28 Max = 109.69</text>
<rect x="9.00" y="638.6" width="22.97" height="7.7" fill="#9370db"/>
<rect x="31.97" y="638.6" width="22.97" height="7.7" fill="#0000cd"/>
<rect x="54.94" y="638.6" width="22.97" height="7.7" fill="#4169e1"/>
<rect x="77.91" y="638.6" width="22.97" height="7.7" fill="#7b9ef0"/>
<rect x="100.88" y="638.6" width="22.97" height="7.7" fill="#b0e0e6"/>
<rect x="123.85" y="638.6" width="22.97" height="7.7" fill="#20b2aa"/>
<rect x="146.82" y="638.6" width="22.97" height="7.7" fill="#bdef60"/>
<rect x="169.79" y="638.6" width="22.97" height="7.7" fill="#95bd30"/>
<rect x="192.76" y="638.6" width="22.97" height="7.7" fill="#f5deb3"/>
<rect x="215.73" y="638.6" width="22.97" height="7.7" fill="#dcb484"/>
<rect x="238.70" y="638.6" width="22.97" height="7.7" fill="#ffdc00"/>
<rect x="261.67" y="638.6" width="22.97" height="7.7" fill="#ffa500"/>
<rect x="284.64" y="638.6" width="22.97" height="7.7" fill="#ff4500"/>
<rect x="307.61" y="638.6" width="22.97" height="7.7" fill="#b22222"/>
<rect x="330.58" y="638.6" width="22.97" height="7.7" fill="#ffb6c1"/>
<rect x="353.55" y="638.6" width="22.97" height="7.7" fill="#ff1493"/>
<line x1="9.00" y1="638.6" x2="9.00" y2="646.3000000000001" stroke="#222" stroke-width="0.8"/>
<line x1="31.97" y1="638.6" x2="31.97" y2="646.3000000000001" stroke="#222" stroke-width="0.8"/>
<line x1="54.94" y1="638.6" x2="54.94" y2="646.3000000000001" stroke="#222" stroke-width="0.8"/>
<line x1="77.91" y1="638.6" x2="77.91" y2="646.3000000000001" stroke="#222" stroke-width="0.8"/>
<line x1="100.88" y1="638.6" x2="100.88" y2="646.3000000000001" stroke="#222" stroke-width="0.8"/>
<line x1="123.85" y1="638.6" x2="123.85" y2="646.3000000000001" stroke="#222" stroke-width="0.8"/>
<line x1="146.82" y1="638.6" x2="146.82" y2="646.3000000000001" stroke="#222" stroke-width="0.8"/>
<line x1="169.79" y1="638.6" x2="169.79" y2="646.3000000000001" stroke="#222" stroke-width="0.8"/>
<line x1="192.76" y1="638.6" x2="192.76" y2="646.3000000000001" stroke="#222" stroke-width="0.8"/>
<line x1="215.73" y1="638.6" x2="215.73" y2="646.3000000000001" stroke="#222" stroke-width="0.8"/>
<line x1="238.70" y1="638.6" x2="238.70" y2="646.3000000000001" stroke="#222" stroke-width="0.8"/>
<line x1="261.67" y1="638.6" x2="261.67" y2="646.3000000000001" stroke="#222" stroke-width="0.8"/>
<line x1="284.64" y1="638.6" x2="284.64" y2="646.3000000000001" stroke="#222" stroke-width="0.8"/>
<line x1="307.61" y1="638.6" x2="307.61" y2="646.3000000000001" stroke="#222" stroke-width="0.8"/>
<line x1="330.58" y1="638.6" x2="330.58" y2="646.3000000000001" stroke="#222" stroke-width="0.8"/>
<line x1="353.55" y1="638.6" x2="353.55" y2="646.3000000000001" stroke="#222" stroke-width="0.8"/>
<line x1="376.52" y1="638.6" x2="376.52" y2="646.3000000000001" stroke="#222" stroke-width="0.8"/>
<rect x="9" y="638.6" width="367.52" height="7.7" fill="none" stroke="#222" stroke-width="0.8"/>
<text x="31.97" y="659.9000000000001" font-size="12.5" style="font-family:'DejaVu Sans',sans-serif;font-weight:200;stroke:#000;stroke-width:0.2px;" fill="#111" text-anchor="middle">−25</text>
<text x="54.94" y="659.9000000000001" font-size="12.5" style="font-family:'DejaVu Sans',sans-serif;font-weight:200;stroke:#000;stroke-width:0.2px;" fill="#111" text-anchor="middle">−20</text>
<text x="77.91" y="659.9000000000001" font-size="12.5" style="font-family:'DejaVu Sans',sans-serif;font-weight:200;stroke:#000;stroke-width:0.2px;" fill="#111" text-anchor="middle">−15</text>
<text x="100.88" y="659.9000000000001" font-size="12.5" style="font-family:'DejaVu Sans',sans-serif;font-weight:200;stroke:#000;stroke-width:0.2px;" fill="#111" text-anchor="middle">−12</text>
<text x="123.85" y="659.9000000000001" font-size="12.5" style="font-family:'DejaVu Sans',sans-serif;font-weight:200;stroke:#000;stroke-width:0.2px;" fill="#111" text-anchor="middle">−9</text>
<text x="146.82" y="659.9000000000001" font-size="12.5" style="font-family:'DejaVu Sans',sans-serif;font-weight:200;stroke:#000;stroke-width:0.2px;" fill="#111" text-anchor="middle">−6</text>
<text x="169.79" y="659.9000000000001" font-size="12.5" style="font-family:'DejaVu Sans',sans-serif;font-weight:200;stroke:#000;stroke-width:0.2px;" fill="#111" text-anchor="middle">−3</text>
<text x="192.76" y="659.9000000000001" font-size="12.5" style="font-family:'DejaVu Sans',sans-serif;font-weight:200;stroke:#000;stroke-width:0.2px;" fill="#111" text-anchor="middle">0</text>
<text x="215.73" y="659.9000000000001" font-size="12.5" style="font-family:'DejaVu Sans',sans-serif;font-weight:200;stroke:#000;stroke-width:0.2px;" fill="#111" text-anchor="middle">3</text>
<text x="238.70" y="659.9000000000001" font-size="12.5" style="font-family:'DejaVu Sans',sans-serif;font-weight:200;stroke:#000;stroke-width:0.2px;" fill="#111" text-anchor="middle">6</text>
<text x="261.67" y="659.9000000000001" font-size="12.5" style="font-family:'DejaVu Sans',sans-serif;font-weight:200;stroke:#000;stroke-width:0.2px;" fill="#111" text-anchor="middle">9</text>
<text x="284.64" y="659.9000000000001" font-size="12.5" style="font-family:'DejaVu Sans',sans-serif;font-weight:200;stroke:#000;stroke-width:0.2px;" fill="#111" text-anchor="middle">12</text>
<text x="307.61" y="659.9000000000001" font-size="12.5" style="font-family:'DejaVu Sans',sans-serif;font-weight:200;stroke:#000;stroke-width:0.2px;" fill="#111" text-anchor="middle">15</text>
<text x="330.58" y="659.9000000000001" font-size="12.5" style="font-family:'DejaVu Sans',sans-serif;font-weight:200;stroke:#000;stroke-width:0.2px;" fill="#111" text-anchor="middle">20</text>
<text x="353.55" y="659.9000000000001" font-size="12.5" style="font-family:'DejaVu Sans',sans-serif;font-weight:200;stroke:#000;stroke-width:0.2px;" fill="#111" text-anchor="middle">25</text>
</svg></body></html>
